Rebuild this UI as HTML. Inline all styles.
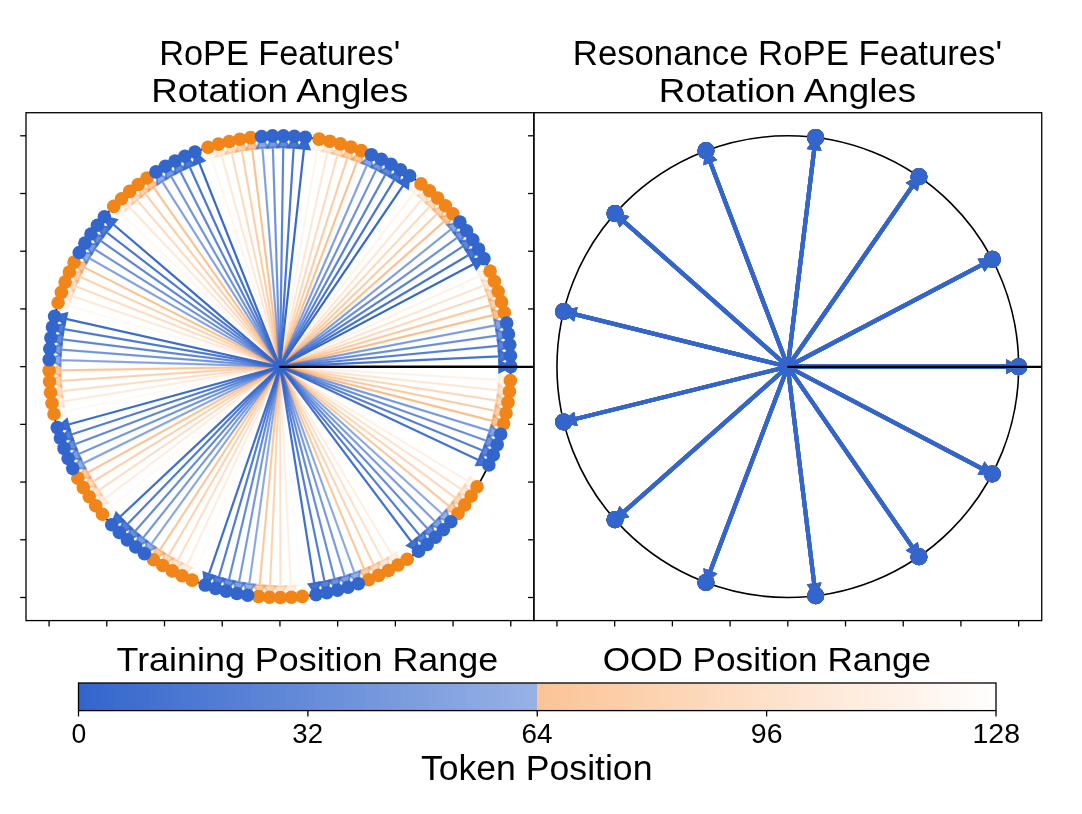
<!DOCTYPE html>
<html><head><meta charset="utf-8"><style>
html,body{margin:0;padding:0;background:#fff;}
svg{display:block;will-change:transform;}
text{font-family:"Liberation Sans", sans-serif;fill:#000;}
</style></head><body>
<svg width="1082" height="814" viewBox="0 0 1082 814">
<defs>
<clipPath id="cl"><rect x="26" y="112.71" width="507.87" height="507.87"/></clipPath>
<clipPath id="cr"><rect x="533.87" y="112.71" width="507.87" height="507.87"/></clipPath>
</defs>
<rect width="1082" height="814" fill="#fff"/>
<g clip-path="url(#cl)">
<circle cx="279.94" cy="366.65" r="230.85" fill="none" stroke="#000" stroke-width="1.6"/>
<polygon points="407.18,559.26 405.64,546.45 400.92,549.57 280.03,366.59 279.84,366.71 400.72,549.7 396.01,552.81" fill="rgb(247,137,45)" fill-opacity="0.008" stroke="rgb(247,137,45)" stroke-opacity="0.008" stroke-width="2" stroke-linejoin="miter"/>
<polygon points="302.26,596.42 306.89,584.37 301.26,584.92 280.05,366.64 279.82,366.66 301.03,584.94 295.4,585.49" fill="rgb(247,137,45)" fill-opacity="0.016" stroke="rgb(247,137,45)" stroke-opacity="0.016" stroke-width="2" stroke-linejoin="miter"/>
<polygon points="192.14,580.16 201.87,571.67 196.64,569.52 280.04,366.69 279.83,366.61 196.43,569.44 191.2,567.29" fill="rgb(247,137,45)" fill-opacity="0.023" stroke="rgb(247,137,45)" stroke-opacity="0.023" stroke-width="2" stroke-linejoin="miter"/>
<polygon points="102.44,514.25 115,511.31 111.39,506.96 280.01,366.74 279.86,366.56 111.24,506.79 107.62,502.44" fill="rgb(247,137,45)" fill-opacity="0.031" stroke="rgb(247,137,45)" stroke-opacity="0.031" stroke-width="2" stroke-linejoin="miter"/>
<polygon points="54,414.04 66.48,417.32 65.32,411.78 279.96,366.76 279.91,366.54 65.27,411.56 64.11,406.02" fill="rgb(247,137,45)" fill-opacity="0.039" stroke="rgb(247,137,45)" stroke-opacity="0.039" stroke-width="2" stroke-linejoin="miter"/>
<polygon points="58.09,302.8 67.59,311.54 69.15,306.11 279.9,366.76 279.97,366.54 69.21,305.89 70.78,300.45" fill="rgb(247,137,45)" fill-opacity="0.047" stroke="rgb(247,137,45)" stroke-opacity="0.047" stroke-width="2" stroke-linejoin="miter"/>
<polygon points="113.75,206.41 118.06,218.58 121.98,214.51 279.85,366.73 280.02,366.57 122.14,214.34 126.07,210.27" fill="rgb(247,137,45)" fill-opacity="0.055" stroke="rgb(247,137,45)" stroke-opacity="0.055" stroke-width="2" stroke-linejoin="miter"/>
<polygon points="208.05,147.28 206.16,160.04 211.54,158.28 279.83,366.69 280.04,366.61 211.76,158.21 217.13,156.45" fill="rgb(247,137,45)" fill-opacity="0.062" stroke="rgb(247,137,45)" stroke-opacity="0.062" stroke-width="2" stroke-linejoin="miter"/>
<polygon points="319.07,139.14 311.42,149.54 317,150.5 279.82,366.63 280.05,366.67 317.22,150.54 322.8,151.49" fill="rgb(247,137,45)" fill-opacity="0.070" stroke="rgb(247,137,45)" stroke-opacity="0.070" stroke-width="2" stroke-linejoin="miter"/>
<polygon points="420.98,183.9 409.36,189.51 413.84,192.97 279.84,366.58 280.03,366.72 414.02,193.11 418.5,196.56" fill="rgb(247,137,45)" fill-opacity="0.078" stroke="rgb(247,137,45)" stroke-opacity="0.078" stroke-width="2" stroke-linejoin="miter"/>
<polygon points="490.1,271.14 477.21,270.66 479.55,275.81 279.89,366.54 279.98,366.76 479.64,276.02 481.98,281.17" fill="rgb(247,137,45)" fill-opacity="0.086" stroke="rgb(247,137,45)" stroke-opacity="0.086" stroke-width="2" stroke-linejoin="miter"/>
<polygon points="510.36,380.59 499.19,374.14 498.85,379.78 279.94,366.53 279.93,366.77 498.84,380.01 498.49,385.66" fill="rgb(247,137,45)" fill-opacity="0.094" stroke="rgb(247,137,45)" stroke-opacity="0.094" stroke-width="2" stroke-linejoin="miter"/>
<polygon points="477.05,486.8 470.2,475.87 467.26,480.69 280,366.55 279.87,366.75 467.14,480.89 464.19,485.72" fill="rgb(247,137,45)" fill-opacity="0.102" stroke="rgb(247,137,45)" stroke-opacity="0.102" stroke-width="2" stroke-linejoin="miter"/>
<polygon points="397.91,565.07 396.98,552.2 392.12,555.09 280.03,366.59 279.84,366.71 391.92,555.21 387.06,558.1" fill="rgb(247,137,45)" fill-opacity="0.109" stroke="rgb(247,137,45)" stroke-opacity="0.109" stroke-width="2" stroke-linejoin="miter"/>
<polygon points="291.35,597.22 296.54,585.4 290.89,585.68 280.05,366.64 279.82,366.66 290.66,585.7 285.01,585.97" fill="rgb(247,137,45)" fill-opacity="0.117" stroke="rgb(247,137,45)" stroke-opacity="0.117" stroke-width="2" stroke-linejoin="miter"/>
<polygon points="182.13,575.76 192.25,567.75 187.12,565.35 280.04,366.7 279.83,366.6 186.91,565.25 181.79,562.86" fill="rgb(247,137,45)" fill-opacity="0.125" stroke="rgb(247,137,45)" stroke-opacity="0.125" stroke-width="2" stroke-linejoin="miter"/>
<polygon points="95.65,505.68 108.34,503.34 104.93,498.82 280,366.74 279.87,366.56 104.79,498.64 101.38,494.12" fill="rgb(247,137,45)" fill-opacity="0.133" stroke="rgb(247,137,45)" stroke-opacity="0.133" stroke-width="2" stroke-linejoin="miter"/>
<polygon points="52.01,403.28 64.32,407.15 63.42,401.56 279.95,366.76 279.92,366.54 63.39,401.34 62.49,395.75" fill="rgb(247,137,45)" fill-opacity="0.141" stroke="rgb(247,137,45)" stroke-opacity="0.141" stroke-width="2" stroke-linejoin="miter"/>
<polygon points="61.36,292.37 70.43,301.54 72.25,296.19 279.9,366.76 279.97,366.54 72.33,295.97 74.15,290.62" fill="rgb(247,137,45)" fill-opacity="0.148" stroke="rgb(247,137,45)" stroke-opacity="0.148" stroke-width="2" stroke-linejoin="miter"/>
<polygon points="121.53,198.72 125.25,211.08 129.37,207.2 279.85,366.73 280.02,366.57 129.54,207.04 133.65,203.16" fill="rgb(247,137,45)" fill-opacity="0.156" stroke="rgb(247,137,45)" stroke-opacity="0.156" stroke-width="2" stroke-linejoin="miter"/>
<polygon points="218.53,144.12 216.03,156.78 221.49,155.27 279.82,366.68 280.05,366.62 221.71,155.21 227.16,153.71" fill="rgb(247,137,45)" fill-opacity="0.164" stroke="rgb(247,137,45)" stroke-opacity="0.164" stroke-width="2" stroke-linejoin="miter"/>
<polygon points="329.8,141.25 321.67,151.27 327.19,152.49 279.82,366.63 280.05,366.67 327.42,152.54 332.94,153.77" fill="rgb(247,137,45)" fill-opacity="0.172" stroke="rgb(247,137,45)" stroke-opacity="0.172" stroke-width="2" stroke-linejoin="miter"/>
<polygon points="429.48,190.79 417.61,195.84 421.91,199.5 279.85,366.58 280.02,366.72 422.09,199.65 426.4,203.32" fill="rgb(247,137,45)" fill-opacity="0.180" stroke="rgb(247,137,45)" stroke-opacity="0.180" stroke-width="2" stroke-linejoin="miter"/>
<polygon points="494.39,281.21 481.53,280.12 483.63,285.37 279.89,366.54 279.98,366.76 483.71,285.59 485.8,290.84" fill="rgb(247,137,45)" fill-opacity="0.188" stroke="rgb(247,137,45)" stroke-opacity="0.188" stroke-width="2" stroke-linejoin="miter"/>
<polygon points="509.44,391.49 498.59,384.51 497.98,390.14 279.95,366.54 279.92,366.76 497.96,390.37 497.35,395.99" fill="rgb(247,137,45)" fill-opacity="0.195" stroke="rgb(247,137,45)" stroke-opacity="0.195" stroke-width="2" stroke-linejoin="miter"/>
<polygon points="471.14,496 464.81,484.76 461.64,489.44 280,366.55 279.87,366.75 461.51,489.63 458.35,494.32" fill="rgb(247,137,45)" fill-opacity="0.203" stroke="rgb(247,137,45)" stroke-opacity="0.203" stroke-width="2" stroke-linejoin="miter"/>
<polygon points="388.38,570.44 388.05,557.54 383.06,560.2 280.04,366.6 279.83,366.7 382.86,560.31 377.87,562.96" fill="rgb(247,137,45)" fill-opacity="0.211" stroke="rgb(247,137,45)" stroke-opacity="0.211" stroke-width="2" stroke-linejoin="miter"/>
<polygon points="280.41,597.5 286.16,585.95 280.5,585.96 280.05,366.65 279.82,366.65 280.27,585.96 274.62,585.97" fill="rgb(247,137,45)" fill-opacity="0.219" stroke="rgb(247,137,45)" stroke-opacity="0.219" stroke-width="2" stroke-linejoin="miter"/>
<polygon points="172.33,570.89 182.82,563.37 177.81,560.73 280.04,366.7 279.83,366.6 177.61,560.62 172.61,557.99" fill="rgb(247,137,45)" fill-opacity="0.227" stroke="rgb(247,137,45)" stroke-opacity="0.227" stroke-width="2" stroke-linejoin="miter"/>
<polygon points="89.27,496.79 102.05,495.05 98.87,490.38 280,366.75 279.87,366.55 98.73,490.19 95.55,485.52" fill="rgb(247,137,45)" fill-opacity="0.234" stroke="rgb(247,137,45)" stroke-opacity="0.234" stroke-width="2" stroke-linejoin="miter"/>
<polygon points="50.53,392.44 62.65,396.89 62.01,391.27 279.95,366.76 279.92,366.54 61.99,391.04 61.36,385.42" fill="rgb(247,137,45)" fill-opacity="0.242" stroke="rgb(247,137,45)" stroke-opacity="0.242" stroke-width="2" stroke-linejoin="miter"/>
<polygon points="65.13,282.09 73.75,291.69 75.83,286.43 279.89,366.76 279.98,366.54 75.91,286.21 77.98,280.95" fill="rgb(247,137,45)" fill-opacity="0.250" stroke="rgb(247,137,45)" stroke-opacity="0.250" stroke-width="2" stroke-linejoin="miter"/>
<polygon points="129.67,191.4 132.8,203.92 137.09,200.24 279.85,366.73 280.02,366.57 137.27,200.09 141.56,196.41" fill="rgb(247,137,45)" fill-opacity="0.258" stroke="rgb(247,137,45)" stroke-opacity="0.258" stroke-width="2" stroke-linejoin="miter"/>
<polygon points="229.14,141.46 226.05,153.99 231.57,152.74 279.82,366.68 280.05,366.62 231.79,152.69 237.31,151.45" fill="rgb(247,137,45)" fill-opacity="0.266" stroke="rgb(247,137,45)" stroke-opacity="0.266" stroke-width="2" stroke-linejoin="miter"/>
<polygon points="340.42,143.87 331.83,153.49 337.29,154.97 279.82,366.62 280.05,366.68 337.51,155.03 342.97,156.52" fill="rgb(247,137,45)" fill-opacity="0.273" stroke="rgb(247,137,45)" stroke-opacity="0.273" stroke-width="2" stroke-linejoin="miter"/>
<polygon points="437.64,198.07 425.54,202.55 429.67,206.42 279.85,366.57 280.02,366.73 429.84,206.58 433.97,210.44" fill="rgb(247,137,45)" fill-opacity="0.281" stroke="rgb(247,137,45)" stroke-opacity="0.281" stroke-width="2" stroke-linejoin="miter"/>
<polygon points="498.2,291.46 485.4,289.77 487.25,295.11 279.9,366.54 279.97,366.76 487.32,295.33 489.16,300.68" fill="rgb(247,137,45)" fill-opacity="0.289" stroke="rgb(247,137,45)" stroke-opacity="0.289" stroke-width="2" stroke-linejoin="miter"/>
<polygon points="508.01,402.34 497.5,394.85 496.62,400.44 279.95,366.54 279.92,366.76 496.59,400.67 495.71,406.26" fill="rgb(247,137,45)" fill-opacity="0.297" stroke="rgb(247,137,45)" stroke-opacity="0.297" stroke-width="2" stroke-linejoin="miter"/>
<polygon points="464.8,504.92 459.01,493.38 455.62,497.91 280,366.56 279.87,366.74 455.48,498.1 452.1,502.63" fill="rgb(247,137,45)" fill-opacity="0.305" stroke="rgb(247,137,45)" stroke-opacity="0.305" stroke-width="2" stroke-linejoin="miter"/>
<polygon points="378.61,575.35 378.89,562.45 373.78,564.87 280.04,366.6 279.83,366.7 373.57,564.96 368.45,567.38" fill="rgb(247,137,45)" fill-opacity="0.312" stroke="rgb(247,137,45)" stroke-opacity="0.312" stroke-width="2" stroke-linejoin="miter"/>
<polygon points="269.48,597.26 275.76,585.99 270.11,585.74 280.05,366.66 279.82,366.64 269.88,585.73 264.23,585.47" fill="rgb(247,137,45)" fill-opacity="0.320" stroke="rgb(247,137,45)" stroke-opacity="0.320" stroke-width="2" stroke-linejoin="miter"/>
<polygon points="162.78,565.56 173.61,558.54 168.73,555.67 280.03,366.71 279.84,366.59 168.53,555.56 163.66,552.69" fill="rgb(247,137,45)" fill-opacity="0.328" stroke="rgb(247,137,45)" stroke-opacity="0.328" stroke-width="2" stroke-linejoin="miter"/>
<polygon points="83.32,487.61 96.17,486.48 93.21,481.66 280,366.75 279.87,366.55 93.09,481.47 90.12,476.65" fill="rgb(247,137,45)" fill-opacity="0.336" stroke="rgb(247,137,45)" stroke-opacity="0.336" stroke-width="2" stroke-linejoin="miter"/>
<polygon points="49.57,381.55 61.46,386.56 61.09,380.92 279.94,366.77 279.93,366.53 61.08,380.69 60.71,375.04" fill="rgb(247,137,45)" fill-opacity="0.344" stroke="rgb(247,137,45)" stroke-opacity="0.344" stroke-width="2" stroke-linejoin="miter"/>
<polygon points="69.37,272.01 77.54,282.01 79.86,276.85 279.89,366.76 279.98,366.54 79.95,276.64 82.27,271.48" fill="rgb(247,137,45)" fill-opacity="0.352" stroke="rgb(247,137,45)" stroke-opacity="0.352" stroke-width="2" stroke-linejoin="miter"/>
<polygon points="138.14,184.48 140.67,197.14 145.14,193.66 279.84,366.72 280.03,366.58 145.32,193.52 149.78,190.05" fill="rgb(247,137,45)" fill-opacity="0.359" stroke="rgb(247,137,45)" stroke-opacity="0.359" stroke-width="2" stroke-linejoin="miter"/>
<polygon points="239.86,139.3 236.18,151.67 241.75,150.69 279.82,366.67 280.05,366.63 241.98,150.65 247.55,149.67" fill="rgb(247,137,45)" fill-opacity="0.367" stroke="rgb(247,137,45)" stroke-opacity="0.367" stroke-width="2" stroke-linejoin="miter"/>
<polygon points="350.91,146.98 341.87,156.19 347.25,157.93 279.83,366.61 280.04,366.69 347.47,158 352.85,159.74" fill="rgb(247,137,45)" fill-opacity="0.375" stroke="rgb(247,137,45)" stroke-opacity="0.375" stroke-width="2" stroke-linejoin="miter"/>
<polygon points="445.45,205.73 433.15,209.64 437.1,213.69 279.85,366.57 280.02,366.73 437.26,213.86 441.2,217.91" fill="rgb(247,137,45)" fill-opacity="0.383" stroke="rgb(247,137,45)" stroke-opacity="0.383" stroke-width="2" stroke-linejoin="miter"/>
<polygon points="501.51,301.89 488.82,299.59 490.4,305.02 279.9,366.54 279.97,366.76 490.47,305.24 492.05,310.67" fill="rgb(247,137,45)" fill-opacity="0.391" stroke="rgb(247,137,45)" stroke-opacity="0.391" stroke-width="2" stroke-linejoin="miter"/>
<polygon points="506.06,413.1 495.92,405.13 494.78,410.67 279.96,366.54 279.91,366.76 494.73,410.89 493.6,416.43" fill="rgb(247,137,45)" fill-opacity="0.398" stroke="rgb(247,137,45)" stroke-opacity="0.398" stroke-width="2" stroke-linejoin="miter"/>
<polygon points="458.04,513.52 452.81,501.72 449.21,506.09 280.01,366.56 279.86,366.74 449.06,506.27 445.46,510.63" fill="rgb(247,137,45)" fill-opacity="0.406" stroke="rgb(247,137,45)" stroke-opacity="0.406" stroke-width="2" stroke-linejoin="miter"/>
<polygon points="368.61,579.79 369.5,566.92 364.28,569.09 280.04,366.61 279.83,366.69 364.07,569.18 358.85,571.35" fill="rgb(247,137,45)" fill-opacity="0.414" stroke="rgb(247,137,45)" stroke-opacity="0.414" stroke-width="2" stroke-linejoin="miter"/>
<polygon points="258.56,596.51 265.38,585.55 259.75,585.03 280.05,366.66 279.82,366.64 259.52,585 253.88,584.48" fill="rgb(247,137,45)" fill-opacity="0.422" stroke="rgb(247,137,45)" stroke-opacity="0.422" stroke-width="2" stroke-linejoin="miter"/>
<polygon points="153.48,559.79 164.64,553.29 159.9,550.19 280.03,366.71 279.84,366.59 159.71,550.07 154.98,546.97" fill="rgb(247,137,45)" fill-opacity="0.430" stroke="rgb(247,137,45)" stroke-opacity="0.430" stroke-width="2" stroke-linejoin="miter"/>
<polygon points="77.81,478.16 90.7,477.64 87.97,472.69 279.99,366.75 279.88,366.55 87.86,472.49 85.12,467.53" fill="rgb(247,137,45)" fill-opacity="0.438" stroke="rgb(247,137,45)" stroke-opacity="0.438" stroke-width="2" stroke-linejoin="miter"/>
<polygon points="49.12,370.61 60.76,376.19 60.66,370.53 279.94,366.77 279.93,366.53 60.66,370.3 60.56,364.65" fill="rgb(247,137,45)" fill-opacity="0.445" stroke="rgb(247,137,45)" stroke-opacity="0.445" stroke-width="2" stroke-linejoin="miter"/>
<polygon points="74.09,262.14 81.77,272.52 84.33,267.47 279.88,366.75 279.99,366.55 84.44,267.27 87,262.22" fill="rgb(247,137,45)" fill-opacity="0.453" stroke="rgb(247,137,45)" stroke-opacity="0.453" stroke-width="2" stroke-linejoin="miter"/>
<polygon points="146.93,177.97 148.86,190.73 153.48,187.47 279.84,366.72 280.03,366.58 153.67,187.34 158.29,184.08" fill="rgb(247,137,45)" fill-opacity="0.461" stroke="rgb(247,137,45)" stroke-opacity="0.461" stroke-width="2" stroke-linejoin="miter"/>
<polygon points="250.68,137.66 246.42,149.84 252.03,149.13 279.82,366.66 280.05,366.64 252.26,149.1 257.87,148.38" fill="rgb(247,137,45)" fill-opacity="0.469" stroke="rgb(247,137,45)" stroke-opacity="0.469" stroke-width="2" stroke-linejoin="miter"/>
<polygon points="361.24,150.59 351.77,159.36 357.06,161.35 279.83,366.61 280.04,366.69 357.28,161.43 362.57,163.43" fill="rgb(247,137,45)" fill-opacity="0.477" stroke="rgb(247,137,45)" stroke-opacity="0.477" stroke-width="2" stroke-linejoin="miter"/>
<polygon points="452.89,213.75 440.42,217.07 444.17,221.31 279.86,366.56 280.01,366.74 444.32,221.48 448.06,225.72" fill="rgb(247,137,45)" fill-opacity="0.484" stroke="rgb(247,137,45)" stroke-opacity="0.484" stroke-width="2" stroke-linejoin="miter"/>
<polygon points="504.33,312.46 491.76,309.56 493.09,315.06 279.91,366.54 279.96,366.76 493.14,315.28 494.47,320.78" fill="rgb(247,137,45)" fill-opacity="0.492" stroke="rgb(247,137,45)" stroke-opacity="0.492" stroke-width="2" stroke-linejoin="miter"/>
<polygon points="503.61,423.76 493.85,415.32 492.45,420.8 279.96,366.54 279.91,366.76 492.4,421.02 491,426.5" fill="rgb(247,137,45)" fill-opacity="0.500" stroke="rgb(247,137,45)" stroke-opacity="0.500" stroke-width="2" stroke-linejoin="miter"/>
<polygon points="450.88,521.79 446.21,509.76 442.41,513.95 280.01,366.56 279.86,366.74 442.26,514.12 438.46,518.31" fill="rgb(51,102,204)" fill-opacity="0.508" stroke="rgb(51,102,204)" stroke-opacity="0.508" stroke-width="2" stroke-linejoin="miter"/>
<polygon points="358.41,583.75 359.91,570.93 354.6,572.86 280.04,366.61 279.83,366.69 354.38,572.94 349.06,574.86" fill="rgb(51,102,204)" fill-opacity="0.516" stroke="rgb(51,102,204)" stroke-opacity="0.516" stroke-width="2" stroke-linejoin="miter"/>
<polygon points="247.7,595.24 255.02,584.61 249.42,583.82 280.05,366.67 279.82,366.63 249.19,583.79 243.59,583" fill="rgb(51,102,204)" fill-opacity="0.523" stroke="rgb(51,102,204)" stroke-opacity="0.523" stroke-width="2" stroke-linejoin="miter"/>
<polygon points="144.48,553.58 155.92,547.62 151.34,544.3 280.03,366.72 279.84,366.58 151.16,544.17 146.58,540.85" fill="rgb(51,102,204)" fill-opacity="0.531" stroke="rgb(51,102,204)" stroke-opacity="0.531" stroke-width="2" stroke-linejoin="miter"/>
<polygon points="72.75,468.46 85.65,468.55 83.16,463.48 279.99,366.75 279.88,366.55 83.06,463.27 80.56,458.19" fill="rgb(51,102,204)" fill-opacity="0.539" stroke="rgb(51,102,204)" stroke-opacity="0.539" stroke-width="2" stroke-linejoin="miter"/>
<polygon points="49.19,359.68 60.55,365.79 60.72,360.14 279.93,366.77 279.94,366.53 60.73,359.91 60.9,354.26" fill="rgb(51,102,204)" fill-opacity="0.547" stroke="rgb(51,102,204)" stroke-opacity="0.547" stroke-width="2" stroke-linejoin="miter"/>
<polygon points="79.28,252.51 86.46,263.23 89.25,258.32 279.88,366.75 279.99,366.55 89.37,258.12 92.16,253.2" fill="rgb(51,102,204)" fill-opacity="0.555" stroke="rgb(51,102,204)" stroke-opacity="0.555" stroke-width="2" stroke-linejoin="miter"/>
<polygon points="156.01,171.88 157.34,184.72 162.11,181.68 279.84,366.71 280.03,366.59 162.31,181.56 167.08,178.52" fill="rgb(51,102,204)" fill-opacity="0.562" stroke="rgb(51,102,204)" stroke-opacity="0.562" stroke-width="2" stroke-linejoin="miter"/>
<polygon points="261.56,136.53 256.73,148.5 262.36,148.05 279.82,366.66 280.05,366.64 262.59,148.03 268.23,147.58" fill="rgb(51,102,204)" fill-opacity="0.570" stroke="rgb(51,102,204)" stroke-opacity="0.570" stroke-width="2" stroke-linejoin="miter"/>
<polygon points="371.38,154.68 361.51,163 366.7,165.24 279.83,366.6 280.04,366.7 366.91,165.33 372.11,167.57" fill="rgb(51,102,204)" fill-opacity="0.578" stroke="rgb(51,102,204)" stroke-opacity="0.578" stroke-width="2" stroke-linejoin="miter"/>
<polygon points="459.94,222.12 447.33,224.84 450.87,229.25 279.86,366.56 280.01,366.74 451.01,229.43 454.55,233.84" fill="rgb(51,102,204)" fill-opacity="0.586" stroke="rgb(51,102,204)" stroke-opacity="0.586" stroke-width="2" stroke-linejoin="miter"/>
<polygon points="506.65,323.15 494.23,319.66 495.29,325.21 279.91,366.54 279.96,366.76 495.34,325.44 496.4,330.99" fill="rgb(51,102,204)" fill-opacity="0.594" stroke="rgb(51,102,204)" stroke-opacity="0.594" stroke-width="2" stroke-linejoin="miter"/>
<polygon points="500.65,434.3 491.31,425.4 489.65,430.8 279.97,366.54 279.9,366.76 489.58,431.02 487.92,436.43" fill="rgb(51,102,204)" fill-opacity="0.602" stroke="rgb(51,102,204)" stroke-opacity="0.602" stroke-width="2" stroke-linejoin="miter"/>
<polygon points="443.34,529.72 439.25,517.48 435.25,521.48 280.02,366.57 279.85,366.73 435.09,521.65 431.09,525.65" fill="rgb(51,102,204)" fill-opacity="0.609" stroke="rgb(51,102,204)" stroke-opacity="0.609" stroke-width="2" stroke-linejoin="miter"/>
<polygon points="348.04,587.23 350.15,574.49 344.74,576.16 280.05,366.62 279.82,366.68 344.52,576.23 339.12,577.9" fill="rgb(51,102,204)" fill-opacity="0.617" stroke="rgb(51,102,204)" stroke-opacity="0.617" stroke-width="2" stroke-linejoin="miter"/>
<polygon points="236.9,593.45 244.72,583.19 239.17,582.14 280.05,366.67 279.82,366.63 238.94,582.09 233.38,581.04" fill="rgb(51,102,204)" fill-opacity="0.625" stroke="rgb(51,102,204)" stroke-opacity="0.625" stroke-width="2" stroke-linejoin="miter"/>
<polygon points="135.77,546.95 147.49,541.54 143.07,538.01 280.03,366.72 279.84,366.58 142.89,537.87 138.47,534.33" fill="rgb(51,102,204)" fill-opacity="0.633" stroke="rgb(51,102,204)" stroke-opacity="0.633" stroke-width="2" stroke-linejoin="miter"/>
<polygon points="68.16,458.53 81.04,459.23 78.79,454.04 279.98,366.76 279.89,366.54 78.7,453.83 76.45,448.64" fill="rgb(51,102,204)" fill-opacity="0.641" stroke="rgb(51,102,204)" stroke-opacity="0.641" stroke-width="2" stroke-linejoin="miter"/>
<polygon points="49.78,348.75 60.84,355.4 61.28,349.76 279.93,366.77 279.94,366.53 61.3,349.53 61.74,343.89" fill="rgb(51,102,204)" fill-opacity="0.648" stroke="rgb(51,102,204)" stroke-opacity="0.648" stroke-width="2" stroke-linejoin="miter"/>
<polygon points="84.91,243.13 91.57,254.18 94.6,249.41 279.87,366.75 280,366.55 94.72,249.21 97.75,244.43" fill="rgb(51,102,204)" fill-opacity="0.656" stroke="rgb(51,102,204)" stroke-opacity="0.656" stroke-width="2" stroke-linejoin="miter"/>
<polygon points="165.38,166.23 166.1,179.11 171.01,176.31 279.83,366.71 280.04,366.59 171.21,176.19 176.12,173.39" fill="rgb(51,102,204)" fill-opacity="0.664" stroke="rgb(51,102,204)" stroke-opacity="0.664" stroke-width="2" stroke-linejoin="miter"/>
<polygon points="272.48,135.92 267.09,147.64 272.74,147.46 279.82,366.65 280.05,366.65 272.97,147.45 278.62,147.27" fill="rgb(51,102,204)" fill-opacity="0.672" stroke="rgb(51,102,204)" stroke-opacity="0.672" stroke-width="2" stroke-linejoin="miter"/>
<polygon points="381.32,159.25 371.07,167.09 376.15,169.57 279.83,366.6 280.04,366.7 376.35,169.67 381.43,172.16" fill="rgb(51,102,204)" fill-opacity="0.680" stroke="rgb(51,102,204)" stroke-opacity="0.680" stroke-width="2" stroke-linejoin="miter"/>
<polygon points="466.58,230.81 453.86,232.93 457.18,237.5 279.87,366.56 280,366.74 457.32,237.69 460.65,242.26" fill="rgb(51,102,204)" fill-opacity="0.688" stroke="rgb(51,102,204)" stroke-opacity="0.688" stroke-width="2" stroke-linejoin="miter"/>
<polygon points="508.46,333.94 496.21,329.86 497.01,335.46 279.92,366.54 279.95,366.76 497.05,335.69 497.85,341.29" fill="rgb(51,102,204)" fill-opacity="0.695" stroke="rgb(51,102,204)" stroke-opacity="0.695" stroke-width="2" stroke-linejoin="miter"/>
<polygon points="497.2,444.68 488.29,435.34 486.37,440.67 279.97,366.54 279.9,366.76 486.3,440.88 484.38,446.21" fill="rgb(51,102,204)" fill-opacity="0.703" stroke="rgb(51,102,204)" stroke-opacity="0.703" stroke-width="2" stroke-linejoin="miter"/>
<polygon points="435.43,537.28 431.92,524.86 427.74,528.67 280.02,366.57 279.85,366.73 427.57,528.82 423.39,532.63" fill="rgb(51,102,204)" fill-opacity="0.711" stroke="rgb(51,102,204)" stroke-opacity="0.711" stroke-width="2" stroke-linejoin="miter"/>
<polygon points="337.51,590.2 340.22,577.59 334.74,579 280.05,366.62 279.82,366.68 334.52,579.06 329.04,580.47" fill="rgb(51,102,204)" fill-opacity="0.719" stroke="rgb(51,102,204)" stroke-opacity="0.719" stroke-width="2" stroke-linejoin="miter"/>
<polygon points="226.21,591.16 234.51,581.28 229.01,579.96 280.05,366.68 279.82,366.62 228.78,579.91 223.28,578.59" fill="rgb(51,102,204)" fill-opacity="0.727" stroke="rgb(51,102,204)" stroke-opacity="0.727" stroke-width="2" stroke-linejoin="miter"/>
<polygon points="127.39,539.92 139.35,535.07 135.11,531.33 280.02,366.73 279.85,366.57 134.93,531.18 130.69,527.44" fill="rgb(51,102,204)" fill-opacity="0.734" stroke="rgb(51,102,204)" stroke-opacity="0.734" stroke-width="2" stroke-linejoin="miter"/>
<polygon points="64.04,448.4 76.88,449.71 74.88,444.42 279.98,366.76 279.89,366.54 74.8,444.2 72.79,438.91" fill="rgb(51,102,204)" fill-opacity="0.742" stroke="rgb(51,102,204)" stroke-opacity="0.742" stroke-width="2" stroke-linejoin="miter"/>
<polygon points="50.89,337.87 61.62,345.03 62.32,339.42 279.92,366.76 279.95,366.54 62.35,339.19 63.06,333.58" fill="rgb(51,102,204)" fill-opacity="0.750" stroke="rgb(51,102,204)" stroke-opacity="0.750" stroke-width="2" stroke-linejoin="miter"/>
<polygon points="90.98,234.03 97.11,245.39 100.36,240.76 279.87,366.74 280,366.56 100.49,240.57 103.74,235.94" fill="rgb(51,102,204)" fill-opacity="0.758" stroke="rgb(51,102,204)" stroke-opacity="0.758" stroke-width="2" stroke-linejoin="miter"/>
<polygon points="175,161.03 175.11,173.93 180.15,171.36 279.83,366.7 280.04,366.6 180.35,171.25 185.39,168.68" fill="rgb(51,102,204)" fill-opacity="0.766" stroke="rgb(51,102,204)" stroke-opacity="0.766" stroke-width="2" stroke-linejoin="miter"/>
<polygon points="283.42,135.83 277.48,147.28 283.13,147.37 279.82,366.65 280.05,366.65 283.36,147.37 289.02,147.45" fill="rgb(51,102,204)" fill-opacity="0.773" stroke="rgb(51,102,204)" stroke-opacity="0.773" stroke-width="2" stroke-linejoin="miter"/>
<polygon points="391.03,164.29 380.42,171.63 385.37,174.35 279.83,366.59 280.04,366.71 385.58,174.46 390.53,177.19" fill="rgb(51,102,204)" fill-opacity="0.781" stroke="rgb(51,102,204)" stroke-opacity="0.781" stroke-width="2" stroke-linejoin="miter"/>
<polygon points="472.81,239.8 460,241.32 463.1,246.05 279.87,366.55 280,366.75 463.23,246.24 466.34,250.96" fill="rgb(51,102,204)" fill-opacity="0.789" stroke="rgb(51,102,204)" stroke-opacity="0.789" stroke-width="2" stroke-linejoin="miter"/>
<polygon points="509.75,344.8 497.71,340.15 498.25,345.78 279.92,366.54 279.95,366.76 498.27,346.01 498.8,351.64" fill="rgb(51,102,204)" fill-opacity="0.797" stroke="rgb(51,102,204)" stroke-opacity="0.797" stroke-width="2" stroke-linejoin="miter"/>
<polygon points="493.26,454.88 484.8,445.14 482.64,450.36 279.98,366.54 279.89,366.76 482.55,450.58 480.39,455.8" fill="rgb(51,102,204)" fill-opacity="0.805" stroke="rgb(51,102,204)" stroke-opacity="0.805" stroke-width="2" stroke-linejoin="miter"/>
<polygon points="427.17,544.45 424.26,531.88 419.9,535.49 280.02,366.58 279.85,366.72 419.72,535.63 415.37,539.24" fill="rgb(51,102,204)" fill-opacity="0.812" stroke="rgb(51,102,204)" stroke-opacity="0.812" stroke-width="2" stroke-linejoin="miter"/>
<polygon points="326.86,592.68 330.16,580.21 324.62,581.36 280.05,366.63 279.82,366.67 324.4,581.4 318.86,582.55" fill="rgb(51,102,204)" fill-opacity="0.820" stroke="rgb(51,102,204)" stroke-opacity="0.820" stroke-width="2" stroke-linejoin="miter"/>
<polygon points="215.63,588.36 224.39,578.89 218.96,577.31 280.05,366.68 279.82,366.62 218.74,577.25 213.3,575.67" fill="rgb(51,102,204)" fill-opacity="0.828" stroke="rgb(51,102,204)" stroke-opacity="0.828" stroke-width="2" stroke-linejoin="miter"/>
<polygon points="119.36,532.5 131.53,528.22 127.47,524.29 280.02,366.73 279.85,366.57 127.3,524.13 123.24,520.19" fill="rgb(51,102,204)" fill-opacity="0.836" stroke="rgb(51,102,204)" stroke-opacity="0.836" stroke-width="2" stroke-linejoin="miter"/>
<polygon points="60.41,438.08 73.17,439.99 71.42,434.62 279.97,366.76 279.9,366.54 71.35,434.4 69.6,429.02" fill="rgb(51,102,204)" fill-opacity="0.844" stroke="rgb(51,102,204)" stroke-opacity="0.844" stroke-width="2" stroke-linejoin="miter"/>
<polygon points="52.51,327.05 62.89,334.72 63.86,329.14 279.92,366.76 279.95,366.54 63.9,328.92 64.87,323.34" fill="rgb(51,102,204)" fill-opacity="0.852" stroke="rgb(51,102,204)" stroke-opacity="0.852" stroke-width="2" stroke-linejoin="miter"/>
<polygon points="97.48,225.23 103.06,236.86 106.53,232.39 279.86,366.74 280.01,366.56 106.67,232.21 110.13,227.74" fill="rgb(51,102,204)" fill-opacity="0.859" stroke="rgb(51,102,204)" stroke-opacity="0.859" stroke-width="2" stroke-linejoin="miter"/>
<polygon points="184.86,156.29 184.36,169.18 189.51,166.85 279.83,366.7 280.04,366.6 189.72,166.76 194.88,164.43" fill="rgb(51,102,204)" fill-opacity="0.867" stroke="rgb(51,102,204)" stroke-opacity="0.867" stroke-width="2" stroke-linejoin="miter"/>
<polygon points="294.35,136.25 287.87,147.41 293.52,147.76 279.82,366.64 280.05,366.66 293.75,147.78 299.39,148.13" fill="rgb(51,102,204)" fill-opacity="0.875" stroke="rgb(51,102,204)" stroke-opacity="0.875" stroke-width="2" stroke-linejoin="miter"/>
<polygon points="400.49,169.78 389.54,176.61 394.37,179.56 279.84,366.59 280.03,366.71 394.56,179.68 399.39,182.64" fill="rgb(51,102,204)" fill-opacity="0.883" stroke="rgb(51,102,204)" stroke-opacity="0.883" stroke-width="2" stroke-linejoin="miter"/>
<polygon points="478.6,249.08 465.73,249.99 468.61,254.86 279.88,366.55 279.99,366.75 468.73,255.06 471.61,259.93" fill="rgb(51,102,204)" fill-opacity="0.891" stroke="rgb(51,102,204)" stroke-opacity="0.891" stroke-width="2" stroke-linejoin="miter"/>
<polygon points="510.53,355.71 498.72,350.5 498.99,356.15 279.93,366.53 279.94,366.77 499,356.38 499.27,362.03" fill="rgb(51,102,204)" fill-opacity="0.898" stroke="rgb(51,102,204)" stroke-opacity="0.898" stroke-width="2" stroke-linejoin="miter"/>
<polygon points="488.84,464.89 480.85,454.75 478.44,459.87 279.98,366.55 279.89,366.75 478.34,460.08 475.94,465.2" fill="rgb(51,102,204)" fill-opacity="0.906" stroke="rgb(51,102,204)" stroke-opacity="0.906" stroke-width="2" stroke-linejoin="miter"/>
<polygon points="418.58,551.23 416.27,538.53 411.74,541.93 280.03,366.58 279.84,366.72 411.56,542.07 407.04,545.46" fill="rgb(51,102,204)" fill-opacity="0.914" stroke="rgb(51,102,204)" stroke-opacity="0.914" stroke-width="2" stroke-linejoin="miter"/>
<polygon points="316.1,594.65 319.99,582.35 314.4,583.23 280.05,366.63 279.82,366.67 314.17,583.27 308.59,584.15" fill="rgb(51,102,204)" fill-opacity="0.922" stroke="rgb(51,102,204)" stroke-opacity="0.922" stroke-width="2" stroke-linejoin="miter"/>
<polygon points="205.2,585.07 214.4,576.02 209.05,574.18 280.04,366.69 279.83,366.61 208.83,574.11 203.48,572.28" fill="rgb(51,102,204)" fill-opacity="0.930" stroke="rgb(51,102,204)" stroke-opacity="0.930" stroke-width="2" stroke-linejoin="miter"/>
<polygon points="111.68,524.71 124.04,521.01 120.17,516.89 280.01,366.73 279.86,366.57 120.01,516.72 116.14,512.6" fill="rgb(51,102,204)" fill-opacity="0.938" stroke="rgb(51,102,204)" stroke-opacity="0.938" stroke-width="2" stroke-linejoin="miter"/>
<polygon points="57.28,427.6 69.93,430.12 68.44,424.66 279.97,366.76 279.9,366.54 68.38,424.44 66.89,418.98" fill="rgb(51,102,204)" fill-opacity="0.945" stroke="rgb(51,102,204)" stroke-opacity="0.945" stroke-width="2" stroke-linejoin="miter"/>
<polygon points="54.64,316.32 64.64,324.47 65.88,318.95 279.91,366.76 279.96,366.54 65.93,318.72 67.16,313.2" fill="rgb(51,102,204)" fill-opacity="0.953" stroke="rgb(51,102,204)" stroke-opacity="0.953" stroke-width="2" stroke-linejoin="miter"/>
<polygon points="104.38,216.74 109.41,228.63 113.08,224.33 279.86,366.74 280.01,366.56 113.23,224.15 116.91,219.85" fill="rgb(51,102,204)" fill-opacity="0.961" stroke="rgb(51,102,204)" stroke-opacity="0.961" stroke-width="2" stroke-linejoin="miter"/>
<polygon points="194.94,152.02 193.82,164.87 199.08,162.79 279.83,366.69 280.04,366.61 199.29,162.71 204.55,160.62" fill="rgb(51,102,204)" fill-opacity="0.969" stroke="rgb(51,102,204)" stroke-opacity="0.969" stroke-width="2" stroke-linejoin="miter"/>
<polygon points="305.25,137.19 298.25,148.03 303.87,148.65 279.82,366.64 280.05,366.66 304.1,148.68 309.72,149.3" fill="rgb(51,102,204)" fill-opacity="0.977" stroke="rgb(51,102,204)" stroke-opacity="0.977" stroke-width="2" stroke-linejoin="miter"/>
<polygon points="409.68,175.71 398.42,182.02 403.1,185.2 279.84,366.59 280.03,366.71 403.29,185.32 407.97,188.5" fill="rgb(51,102,204)" fill-opacity="0.984" stroke="rgb(51,102,204)" stroke-opacity="0.984" stroke-width="2" stroke-linejoin="miter"/>
<polygon points="483.95,258.62 471.05,258.93 473.7,263.92 279.88,366.55 279.99,366.75 473.8,264.13 476.45,269.13" fill="rgb(51,102,204)" fill-opacity="0.992" stroke="rgb(51,102,204)" stroke-opacity="0.992" stroke-width="2" stroke-linejoin="miter"/>
<polygon points="510.78,366.65 499.24,360.88 499.24,366.53 279.94,366.53 279.94,366.77 499.24,366.77 499.24,372.42" fill="rgb(51,102,204)" fill-opacity="1.000" stroke="rgb(51,102,204)" stroke-opacity="1.000" stroke-width="2" stroke-linejoin="miter"/>
<circle cx="503.61" cy="423.76" r="6.8" fill="rgb(242,133,24)"/>
<circle cx="504.33" cy="312.46" r="6.8" fill="rgb(242,133,24)"/>
<circle cx="452.89" cy="213.75" r="6.8" fill="rgb(242,133,24)"/>
<circle cx="361.24" cy="150.59" r="6.8" fill="rgb(242,133,24)"/>
<circle cx="250.68" cy="137.66" r="6.8" fill="rgb(242,133,24)"/>
<circle cx="146.93" cy="177.97" r="6.8" fill="rgb(242,133,24)"/>
<circle cx="74.09" cy="262.14" r="6.8" fill="rgb(242,133,24)"/>
<circle cx="49.12" cy="370.61" r="6.8" fill="rgb(242,133,24)"/>
<circle cx="77.81" cy="478.16" r="6.8" fill="rgb(242,133,24)"/>
<circle cx="153.48" cy="559.79" r="6.8" fill="rgb(242,133,24)"/>
<circle cx="258.56" cy="596.51" r="6.8" fill="rgb(242,133,24)"/>
<circle cx="368.61" cy="579.79" r="6.8" fill="rgb(242,133,24)"/>
<circle cx="458.04" cy="513.52" r="6.8" fill="rgb(242,133,24)"/>
<circle cx="506.06" cy="413.1" r="6.8" fill="rgb(242,133,24)"/>
<circle cx="501.51" cy="301.89" r="6.8" fill="rgb(242,133,24)"/>
<circle cx="445.45" cy="205.73" r="6.8" fill="rgb(242,133,24)"/>
<circle cx="350.91" cy="146.98" r="6.8" fill="rgb(242,133,24)"/>
<circle cx="239.86" cy="139.3" r="6.8" fill="rgb(242,133,24)"/>
<circle cx="138.14" cy="184.48" r="6.8" fill="rgb(242,133,24)"/>
<circle cx="69.37" cy="272.01" r="6.8" fill="rgb(242,133,24)"/>
<circle cx="49.57" cy="381.55" r="6.8" fill="rgb(242,133,24)"/>
<circle cx="83.32" cy="487.61" r="6.8" fill="rgb(242,133,24)"/>
<circle cx="162.78" cy="565.56" r="6.8" fill="rgb(242,133,24)"/>
<circle cx="269.48" cy="597.26" r="6.8" fill="rgb(242,133,24)"/>
<circle cx="378.61" cy="575.35" r="6.8" fill="rgb(242,133,24)"/>
<circle cx="464.8" cy="504.92" r="6.8" fill="rgb(242,133,24)"/>
<circle cx="508.01" cy="402.34" r="6.8" fill="rgb(242,133,24)"/>
<circle cx="498.2" cy="291.46" r="6.8" fill="rgb(242,133,24)"/>
<circle cx="437.64" cy="198.07" r="6.8" fill="rgb(242,133,24)"/>
<circle cx="340.42" cy="143.87" r="6.8" fill="rgb(242,133,24)"/>
<circle cx="229.14" cy="141.46" r="6.8" fill="rgb(242,133,24)"/>
<circle cx="129.67" cy="191.4" r="6.8" fill="rgb(242,133,24)"/>
<circle cx="65.13" cy="282.09" r="6.8" fill="rgb(242,133,24)"/>
<circle cx="50.53" cy="392.44" r="6.8" fill="rgb(242,133,24)"/>
<circle cx="89.27" cy="496.79" r="6.8" fill="rgb(242,133,24)"/>
<circle cx="172.33" cy="570.89" r="6.8" fill="rgb(242,133,24)"/>
<circle cx="280.41" cy="597.5" r="6.8" fill="rgb(242,133,24)"/>
<circle cx="388.38" cy="570.44" r="6.8" fill="rgb(242,133,24)"/>
<circle cx="471.14" cy="496" r="6.8" fill="rgb(242,133,24)"/>
<circle cx="509.44" cy="391.49" r="6.8" fill="rgb(242,133,24)"/>
<circle cx="494.39" cy="281.21" r="6.8" fill="rgb(242,133,24)"/>
<circle cx="429.48" cy="190.79" r="6.8" fill="rgb(242,133,24)"/>
<circle cx="329.8" cy="141.25" r="6.8" fill="rgb(242,133,24)"/>
<circle cx="218.53" cy="144.12" r="6.8" fill="rgb(242,133,24)"/>
<circle cx="121.53" cy="198.72" r="6.8" fill="rgb(242,133,24)"/>
<circle cx="61.36" cy="292.37" r="6.8" fill="rgb(242,133,24)"/>
<circle cx="52.01" cy="403.28" r="6.8" fill="rgb(242,133,24)"/>
<circle cx="95.65" cy="505.68" r="6.8" fill="rgb(242,133,24)"/>
<circle cx="182.13" cy="575.76" r="6.8" fill="rgb(242,133,24)"/>
<circle cx="291.35" cy="597.22" r="6.8" fill="rgb(242,133,24)"/>
<circle cx="397.91" cy="565.07" r="6.8" fill="rgb(242,133,24)"/>
<circle cx="477.05" cy="486.8" r="6.8" fill="rgb(242,133,24)"/>
<circle cx="510.36" cy="380.59" r="6.8" fill="rgb(242,133,24)"/>
<circle cx="490.1" cy="271.14" r="6.8" fill="rgb(242,133,24)"/>
<circle cx="420.98" cy="183.9" r="6.8" fill="rgb(242,133,24)"/>
<circle cx="319.07" cy="139.14" r="6.8" fill="rgb(242,133,24)"/>
<circle cx="208.05" cy="147.28" r="6.8" fill="rgb(242,133,24)"/>
<circle cx="113.75" cy="206.41" r="6.8" fill="rgb(242,133,24)"/>
<circle cx="58.09" cy="302.8" r="6.8" fill="rgb(242,133,24)"/>
<circle cx="54" cy="414.04" r="6.8" fill="rgb(242,133,24)"/>
<circle cx="102.44" cy="514.25" r="6.8" fill="rgb(242,133,24)"/>
<circle cx="192.14" cy="580.16" r="6.8" fill="rgb(242,133,24)"/>
<circle cx="302.26" cy="596.42" r="6.8" fill="rgb(242,133,24)"/>
<circle cx="407.18" cy="559.26" r="6.8" fill="rgb(242,133,24)"/>
<circle cx="510.78" cy="366.65" r="6.8" fill="rgb(51,102,204)"/>
<circle cx="483.95" cy="258.62" r="6.8" fill="rgb(51,102,204)"/>
<circle cx="409.68" cy="175.71" r="6.8" fill="rgb(51,102,204)"/>
<circle cx="305.25" cy="137.19" r="6.8" fill="rgb(51,102,204)"/>
<circle cx="194.94" cy="152.02" r="6.8" fill="rgb(51,102,204)"/>
<circle cx="104.38" cy="216.74" r="6.8" fill="rgb(51,102,204)"/>
<circle cx="54.64" cy="316.32" r="6.8" fill="rgb(51,102,204)"/>
<circle cx="57.28" cy="427.6" r="6.8" fill="rgb(51,102,204)"/>
<circle cx="111.68" cy="524.71" r="6.8" fill="rgb(51,102,204)"/>
<circle cx="205.2" cy="585.07" r="6.8" fill="rgb(51,102,204)"/>
<circle cx="316.1" cy="594.65" r="6.8" fill="rgb(51,102,204)"/>
<circle cx="418.58" cy="551.23" r="6.8" fill="rgb(51,102,204)"/>
<circle cx="488.84" cy="464.89" r="6.8" fill="rgb(51,102,204)"/>
<circle cx="510.53" cy="355.71" r="6.8" fill="rgb(51,102,204)"/>
<circle cx="478.6" cy="249.08" r="6.8" fill="rgb(51,102,204)"/>
<circle cx="400.49" cy="169.78" r="6.8" fill="rgb(51,102,204)"/>
<circle cx="294.35" cy="136.25" r="6.8" fill="rgb(51,102,204)"/>
<circle cx="184.86" cy="156.29" r="6.8" fill="rgb(51,102,204)"/>
<circle cx="97.48" cy="225.23" r="6.8" fill="rgb(51,102,204)"/>
<circle cx="52.51" cy="327.05" r="6.8" fill="rgb(51,102,204)"/>
<circle cx="60.41" cy="438.08" r="6.8" fill="rgb(51,102,204)"/>
<circle cx="119.36" cy="532.5" r="6.8" fill="rgb(51,102,204)"/>
<circle cx="215.63" cy="588.36" r="6.8" fill="rgb(51,102,204)"/>
<circle cx="326.86" cy="592.68" r="6.8" fill="rgb(51,102,204)"/>
<circle cx="427.17" cy="544.45" r="6.8" fill="rgb(51,102,204)"/>
<circle cx="493.26" cy="454.88" r="6.8" fill="rgb(51,102,204)"/>
<circle cx="509.75" cy="344.8" r="6.8" fill="rgb(51,102,204)"/>
<circle cx="472.81" cy="239.8" r="6.8" fill="rgb(51,102,204)"/>
<circle cx="391.03" cy="164.29" r="6.8" fill="rgb(51,102,204)"/>
<circle cx="283.42" cy="135.83" r="6.8" fill="rgb(51,102,204)"/>
<circle cx="175" cy="161.03" r="6.8" fill="rgb(51,102,204)"/>
<circle cx="90.98" cy="234.03" r="6.8" fill="rgb(51,102,204)"/>
<circle cx="50.89" cy="337.87" r="6.8" fill="rgb(51,102,204)"/>
<circle cx="64.04" cy="448.4" r="6.8" fill="rgb(51,102,204)"/>
<circle cx="127.39" cy="539.92" r="6.8" fill="rgb(51,102,204)"/>
<circle cx="226.21" cy="591.16" r="6.8" fill="rgb(51,102,204)"/>
<circle cx="337.51" cy="590.2" r="6.8" fill="rgb(51,102,204)"/>
<circle cx="435.43" cy="537.28" r="6.8" fill="rgb(51,102,204)"/>
<circle cx="497.2" cy="444.68" r="6.8" fill="rgb(51,102,204)"/>
<circle cx="508.46" cy="333.94" r="6.8" fill="rgb(51,102,204)"/>
<circle cx="466.58" cy="230.81" r="6.8" fill="rgb(51,102,204)"/>
<circle cx="381.32" cy="159.25" r="6.8" fill="rgb(51,102,204)"/>
<circle cx="272.48" cy="135.92" r="6.8" fill="rgb(51,102,204)"/>
<circle cx="165.38" cy="166.23" r="6.8" fill="rgb(51,102,204)"/>
<circle cx="84.91" cy="243.13" r="6.8" fill="rgb(51,102,204)"/>
<circle cx="49.78" cy="348.75" r="6.8" fill="rgb(51,102,204)"/>
<circle cx="68.16" cy="458.53" r="6.8" fill="rgb(51,102,204)"/>
<circle cx="135.77" cy="546.95" r="6.8" fill="rgb(51,102,204)"/>
<circle cx="236.9" cy="593.45" r="6.8" fill="rgb(51,102,204)"/>
<circle cx="348.04" cy="587.23" r="6.8" fill="rgb(51,102,204)"/>
<circle cx="443.34" cy="529.72" r="6.8" fill="rgb(51,102,204)"/>
<circle cx="500.65" cy="434.3" r="6.8" fill="rgb(51,102,204)"/>
<circle cx="506.65" cy="323.15" r="6.8" fill="rgb(51,102,204)"/>
<circle cx="459.94" cy="222.12" r="6.8" fill="rgb(51,102,204)"/>
<circle cx="371.38" cy="154.68" r="6.8" fill="rgb(51,102,204)"/>
<circle cx="261.56" cy="136.53" r="6.8" fill="rgb(51,102,204)"/>
<circle cx="156.01" cy="171.88" r="6.8" fill="rgb(51,102,204)"/>
<circle cx="79.28" cy="252.51" r="6.8" fill="rgb(51,102,204)"/>
<circle cx="49.19" cy="359.68" r="6.8" fill="rgb(51,102,204)"/>
<circle cx="72.75" cy="468.46" r="6.8" fill="rgb(51,102,204)"/>
<circle cx="144.48" cy="553.58" r="6.8" fill="rgb(51,102,204)"/>
<circle cx="247.7" cy="595.24" r="6.8" fill="rgb(51,102,204)"/>
<circle cx="358.41" cy="583.75" r="6.8" fill="rgb(51,102,204)"/>
<circle cx="450.88" cy="521.79" r="6.8" fill="rgb(51,102,204)"/>
<line x1="279.44" y1="366.85" x2="556.95" y2="366.85" stroke="#000" stroke-width="2.4"/>
</g>
<g clip-path="url(#cr)">
<circle cx="787.81" cy="366.65" r="230.85" fill="none" stroke="#000" stroke-width="1.6"/>
<polygon points="815.63,595.82 819.97,583.66 815.27,584.23 788.84,366.52 786.77,366.78 813.21,584.48 808.51,585.05" fill="rgb(247,137,45)" fill-opacity="0.008" stroke="rgb(247,137,45)" stroke-opacity="0.008" stroke-width="2" stroke-linejoin="miter"/>
<polygon points="705.94,582.5 715.43,573.75 711.01,572.07 788.78,367.02 786.83,366.28 709.07,571.34 704.64,569.66" fill="rgb(247,137,45)" fill-opacity="0.016" stroke="rgb(247,137,45)" stroke-opacity="0.016" stroke-width="2" stroke-linejoin="miter"/>
<polygon points="615.01,519.73 627.48,516.4 624.34,512.86 788.49,367.43 787.12,365.87 622.96,511.3 619.82,507.76" fill="rgb(247,137,45)" fill-opacity="0.023" stroke="rgb(247,137,45)" stroke-opacity="0.023" stroke-width="2" stroke-linejoin="miter"/>
<polygon points="563.66,421.9 576.25,424.74 575.12,420.14 788.05,367.66 787.56,365.64 574.62,418.13 573.49,413.53" fill="rgb(247,137,45)" fill-opacity="0.031" stroke="rgb(247,137,45)" stroke-opacity="0.031" stroke-width="2" stroke-linejoin="miter"/>
<polygon points="563.66,311.4 573.49,319.77 574.62,315.17 787.56,367.66 788.05,365.64 575.12,313.16 576.25,308.56" fill="rgb(247,137,45)" fill-opacity="0.039" stroke="rgb(247,137,45)" stroke-opacity="0.039" stroke-width="2" stroke-linejoin="miter"/>
<polygon points="615.01,213.57 619.82,225.54 622.96,222 787.12,367.43 788.49,365.87 624.34,220.44 627.48,216.9" fill="rgb(247,137,45)" fill-opacity="0.047" stroke="rgb(247,137,45)" stroke-opacity="0.047" stroke-width="2" stroke-linejoin="miter"/>
<polygon points="705.94,150.8 704.64,163.64 709.07,161.96 786.83,367.02 788.78,366.28 711.01,161.23 715.43,159.55" fill="rgb(247,137,45)" fill-opacity="0.055" stroke="rgb(247,137,45)" stroke-opacity="0.055" stroke-width="2" stroke-linejoin="miter"/>
<polygon points="815.63,137.48 808.51,148.25 813.21,148.82 786.77,366.52 788.84,366.78 815.27,149.07 819.97,149.64" fill="rgb(247,137,45)" fill-opacity="0.062" stroke="rgb(247,137,45)" stroke-opacity="0.062" stroke-width="2" stroke-linejoin="miter"/>
<polygon points="918.94,176.66 907.64,182.89 911.53,185.57 786.95,366.06 788.66,367.24 913.24,186.75 917.14,189.44" fill="rgb(247,137,45)" fill-opacity="0.070" stroke="rgb(247,137,45)" stroke-opacity="0.070" stroke-width="2" stroke-linejoin="miter"/>
<polygon points="992.21,259.37 979.31,259.62 981.51,263.81 787.32,365.73 788.29,367.57 982.47,265.65 984.67,269.84" fill="rgb(247,137,45)" fill-opacity="0.078" stroke="rgb(247,137,45)" stroke-opacity="0.078" stroke-width="2" stroke-linejoin="miter"/>
<polygon points="1018.66,366.65 1007.11,360.88 1007.11,365.61 787.81,365.61 787.81,367.69 1007.11,367.69 1007.11,372.42" fill="rgb(247,137,45)" fill-opacity="0.086" stroke="rgb(247,137,45)" stroke-opacity="0.086" stroke-width="2" stroke-linejoin="miter"/>
<polygon points="992.21,473.93 984.67,463.46 982.47,467.65 788.29,365.73 787.32,367.57 981.51,469.49 979.31,473.68" fill="rgb(247,137,45)" fill-opacity="0.094" stroke="rgb(247,137,45)" stroke-opacity="0.094" stroke-width="2" stroke-linejoin="miter"/>
<polygon points="918.94,556.64 917.14,543.86 913.24,546.55 788.66,366.06 786.95,367.24 911.53,547.73 907.64,550.41" fill="rgb(247,137,45)" fill-opacity="0.102" stroke="rgb(247,137,45)" stroke-opacity="0.102" stroke-width="2" stroke-linejoin="miter"/>
<polygon points="815.63,595.82 819.97,583.66 815.27,584.23 788.84,366.52 786.77,366.78 813.21,584.48 808.51,585.05" fill="rgb(247,137,45)" fill-opacity="0.109" stroke="rgb(247,137,45)" stroke-opacity="0.109" stroke-width="2" stroke-linejoin="miter"/>
<polygon points="705.94,582.5 715.43,573.75 711.01,572.07 788.78,367.02 786.83,366.28 709.07,571.34 704.64,569.66" fill="rgb(247,137,45)" fill-opacity="0.117" stroke="rgb(247,137,45)" stroke-opacity="0.117" stroke-width="2" stroke-linejoin="miter"/>
<polygon points="615.01,519.73 627.48,516.4 624.34,512.86 788.49,367.43 787.12,365.87 622.96,511.3 619.82,507.76" fill="rgb(247,137,45)" fill-opacity="0.125" stroke="rgb(247,137,45)" stroke-opacity="0.125" stroke-width="2" stroke-linejoin="miter"/>
<polygon points="563.66,421.9 576.25,424.74 575.12,420.14 788.05,367.66 787.56,365.64 574.62,418.13 573.49,413.53" fill="rgb(247,137,45)" fill-opacity="0.133" stroke="rgb(247,137,45)" stroke-opacity="0.133" stroke-width="2" stroke-linejoin="miter"/>
<polygon points="563.66,311.4 573.49,319.77 574.62,315.17 787.56,367.66 788.05,365.64 575.12,313.16 576.25,308.56" fill="rgb(247,137,45)" fill-opacity="0.141" stroke="rgb(247,137,45)" stroke-opacity="0.141" stroke-width="2" stroke-linejoin="miter"/>
<polygon points="615.01,213.57 619.82,225.54 622.96,222 787.12,367.43 788.49,365.87 624.34,220.44 627.48,216.9" fill="rgb(247,137,45)" fill-opacity="0.148" stroke="rgb(247,137,45)" stroke-opacity="0.148" stroke-width="2" stroke-linejoin="miter"/>
<polygon points="705.94,150.8 704.64,163.64 709.07,161.96 786.83,367.02 788.78,366.28 711.01,161.23 715.43,159.55" fill="rgb(247,137,45)" fill-opacity="0.156" stroke="rgb(247,137,45)" stroke-opacity="0.156" stroke-width="2" stroke-linejoin="miter"/>
<polygon points="815.63,137.48 808.51,148.25 813.21,148.82 786.77,366.52 788.84,366.78 815.27,149.07 819.97,149.64" fill="rgb(247,137,45)" fill-opacity="0.164" stroke="rgb(247,137,45)" stroke-opacity="0.164" stroke-width="2" stroke-linejoin="miter"/>
<polygon points="918.94,176.66 907.64,182.89 911.53,185.57 786.95,366.06 788.66,367.24 913.24,186.75 917.14,189.44" fill="rgb(247,137,45)" fill-opacity="0.172" stroke="rgb(247,137,45)" stroke-opacity="0.172" stroke-width="2" stroke-linejoin="miter"/>
<polygon points="992.21,259.37 979.31,259.62 981.51,263.81 787.32,365.73 788.29,367.57 982.47,265.65 984.67,269.84" fill="rgb(247,137,45)" fill-opacity="0.180" stroke="rgb(247,137,45)" stroke-opacity="0.180" stroke-width="2" stroke-linejoin="miter"/>
<polygon points="1018.66,366.65 1007.11,360.88 1007.11,365.61 787.81,365.61 787.81,367.69 1007.11,367.69 1007.11,372.42" fill="rgb(247,137,45)" fill-opacity="0.188" stroke="rgb(247,137,45)" stroke-opacity="0.188" stroke-width="2" stroke-linejoin="miter"/>
<polygon points="992.21,473.93 984.67,463.46 982.47,467.65 788.29,365.73 787.32,367.57 981.51,469.49 979.31,473.68" fill="rgb(247,137,45)" fill-opacity="0.195" stroke="rgb(247,137,45)" stroke-opacity="0.195" stroke-width="2" stroke-linejoin="miter"/>
<polygon points="918.94,556.64 917.14,543.86 913.24,546.55 788.66,366.06 786.95,367.24 911.53,547.73 907.64,550.41" fill="rgb(247,137,45)" fill-opacity="0.203" stroke="rgb(247,137,45)" stroke-opacity="0.203" stroke-width="2" stroke-linejoin="miter"/>
<polygon points="815.63,595.82 819.97,583.66 815.27,584.23 788.84,366.52 786.77,366.78 813.21,584.48 808.51,585.05" fill="rgb(247,137,45)" fill-opacity="0.211" stroke="rgb(247,137,45)" stroke-opacity="0.211" stroke-width="2" stroke-linejoin="miter"/>
<polygon points="705.94,582.5 715.43,573.75 711.01,572.07 788.78,367.02 786.83,366.28 709.07,571.34 704.64,569.66" fill="rgb(247,137,45)" fill-opacity="0.219" stroke="rgb(247,137,45)" stroke-opacity="0.219" stroke-width="2" stroke-linejoin="miter"/>
<polygon points="615.01,519.73 627.48,516.4 624.34,512.86 788.49,367.43 787.12,365.87 622.96,511.3 619.82,507.76" fill="rgb(247,137,45)" fill-opacity="0.227" stroke="rgb(247,137,45)" stroke-opacity="0.227" stroke-width="2" stroke-linejoin="miter"/>
<polygon points="563.66,421.9 576.25,424.74 575.12,420.14 788.05,367.66 787.56,365.64 574.62,418.13 573.49,413.53" fill="rgb(247,137,45)" fill-opacity="0.234" stroke="rgb(247,137,45)" stroke-opacity="0.234" stroke-width="2" stroke-linejoin="miter"/>
<polygon points="563.66,311.4 573.49,319.77 574.62,315.17 787.56,367.66 788.05,365.64 575.12,313.16 576.25,308.56" fill="rgb(247,137,45)" fill-opacity="0.242" stroke="rgb(247,137,45)" stroke-opacity="0.242" stroke-width="2" stroke-linejoin="miter"/>
<polygon points="615.01,213.57 619.82,225.54 622.96,222 787.12,367.43 788.49,365.87 624.34,220.44 627.48,216.9" fill="rgb(247,137,45)" fill-opacity="0.250" stroke="rgb(247,137,45)" stroke-opacity="0.250" stroke-width="2" stroke-linejoin="miter"/>
<polygon points="705.94,150.8 704.64,163.64 709.07,161.96 786.83,367.02 788.78,366.28 711.01,161.23 715.43,159.55" fill="rgb(247,137,45)" fill-opacity="0.258" stroke="rgb(247,137,45)" stroke-opacity="0.258" stroke-width="2" stroke-linejoin="miter"/>
<polygon points="815.63,137.48 808.51,148.25 813.21,148.82 786.77,366.52 788.84,366.78 815.27,149.07 819.97,149.64" fill="rgb(247,137,45)" fill-opacity="0.266" stroke="rgb(247,137,45)" stroke-opacity="0.266" stroke-width="2" stroke-linejoin="miter"/>
<polygon points="918.94,176.66 907.64,182.89 911.53,185.57 786.95,366.06 788.66,367.24 913.24,186.75 917.14,189.44" fill="rgb(247,137,45)" fill-opacity="0.273" stroke="rgb(247,137,45)" stroke-opacity="0.273" stroke-width="2" stroke-linejoin="miter"/>
<polygon points="992.21,259.37 979.31,259.62 981.51,263.81 787.32,365.73 788.29,367.57 982.47,265.65 984.67,269.84" fill="rgb(247,137,45)" fill-opacity="0.281" stroke="rgb(247,137,45)" stroke-opacity="0.281" stroke-width="2" stroke-linejoin="miter"/>
<polygon points="1018.66,366.65 1007.11,360.88 1007.11,365.61 787.81,365.61 787.81,367.69 1007.11,367.69 1007.11,372.42" fill="rgb(247,137,45)" fill-opacity="0.289" stroke="rgb(247,137,45)" stroke-opacity="0.289" stroke-width="2" stroke-linejoin="miter"/>
<polygon points="992.21,473.93 984.67,463.46 982.47,467.65 788.29,365.73 787.32,367.57 981.51,469.49 979.31,473.68" fill="rgb(247,137,45)" fill-opacity="0.297" stroke="rgb(247,137,45)" stroke-opacity="0.297" stroke-width="2" stroke-linejoin="miter"/>
<polygon points="918.94,556.64 917.14,543.86 913.24,546.55 788.66,366.06 786.95,367.24 911.53,547.73 907.64,550.41" fill="rgb(247,137,45)" fill-opacity="0.305" stroke="rgb(247,137,45)" stroke-opacity="0.305" stroke-width="2" stroke-linejoin="miter"/>
<polygon points="815.63,595.82 819.97,583.66 815.27,584.23 788.84,366.52 786.77,366.78 813.21,584.48 808.51,585.05" fill="rgb(247,137,45)" fill-opacity="0.312" stroke="rgb(247,137,45)" stroke-opacity="0.312" stroke-width="2" stroke-linejoin="miter"/>
<polygon points="705.94,582.5 715.43,573.75 711.01,572.07 788.78,367.02 786.83,366.28 709.07,571.34 704.64,569.66" fill="rgb(247,137,45)" fill-opacity="0.320" stroke="rgb(247,137,45)" stroke-opacity="0.320" stroke-width="2" stroke-linejoin="miter"/>
<polygon points="615.01,519.73 627.48,516.4 624.34,512.86 788.49,367.43 787.12,365.87 622.96,511.3 619.82,507.76" fill="rgb(247,137,45)" fill-opacity="0.328" stroke="rgb(247,137,45)" stroke-opacity="0.328" stroke-width="2" stroke-linejoin="miter"/>
<polygon points="563.66,421.9 576.25,424.74 575.12,420.14 788.05,367.66 787.56,365.64 574.62,418.13 573.49,413.53" fill="rgb(247,137,45)" fill-opacity="0.336" stroke="rgb(247,137,45)" stroke-opacity="0.336" stroke-width="2" stroke-linejoin="miter"/>
<polygon points="563.66,311.4 573.49,319.77 574.62,315.17 787.56,367.66 788.05,365.64 575.12,313.16 576.25,308.56" fill="rgb(247,137,45)" fill-opacity="0.344" stroke="rgb(247,137,45)" stroke-opacity="0.344" stroke-width="2" stroke-linejoin="miter"/>
<polygon points="615.01,213.57 619.82,225.54 622.96,222 787.12,367.43 788.49,365.87 624.34,220.44 627.48,216.9" fill="rgb(247,137,45)" fill-opacity="0.352" stroke="rgb(247,137,45)" stroke-opacity="0.352" stroke-width="2" stroke-linejoin="miter"/>
<polygon points="705.94,150.8 704.64,163.64 709.07,161.96 786.83,367.02 788.78,366.28 711.01,161.23 715.43,159.55" fill="rgb(247,137,45)" fill-opacity="0.359" stroke="rgb(247,137,45)" stroke-opacity="0.359" stroke-width="2" stroke-linejoin="miter"/>
<polygon points="815.63,137.48 808.51,148.25 813.21,148.82 786.77,366.52 788.84,366.78 815.27,149.07 819.97,149.64" fill="rgb(247,137,45)" fill-opacity="0.367" stroke="rgb(247,137,45)" stroke-opacity="0.367" stroke-width="2" stroke-linejoin="miter"/>
<polygon points="918.94,176.66 907.64,182.89 911.53,185.57 786.95,366.06 788.66,367.24 913.24,186.75 917.14,189.44" fill="rgb(247,137,45)" fill-opacity="0.375" stroke="rgb(247,137,45)" stroke-opacity="0.375" stroke-width="2" stroke-linejoin="miter"/>
<polygon points="992.21,259.37 979.31,259.62 981.51,263.81 787.32,365.73 788.29,367.57 982.47,265.65 984.67,269.84" fill="rgb(247,137,45)" fill-opacity="0.383" stroke="rgb(247,137,45)" stroke-opacity="0.383" stroke-width="2" stroke-linejoin="miter"/>
<polygon points="1018.66,366.65 1007.11,360.88 1007.11,365.61 787.81,365.61 787.81,367.69 1007.11,367.69 1007.11,372.42" fill="rgb(247,137,45)" fill-opacity="0.391" stroke="rgb(247,137,45)" stroke-opacity="0.391" stroke-width="2" stroke-linejoin="miter"/>
<polygon points="992.21,473.93 984.67,463.46 982.47,467.65 788.29,365.73 787.32,367.57 981.51,469.49 979.31,473.68" fill="rgb(247,137,45)" fill-opacity="0.398" stroke="rgb(247,137,45)" stroke-opacity="0.398" stroke-width="2" stroke-linejoin="miter"/>
<polygon points="918.94,556.64 917.14,543.86 913.24,546.55 788.66,366.06 786.95,367.24 911.53,547.73 907.64,550.41" fill="rgb(247,137,45)" fill-opacity="0.406" stroke="rgb(247,137,45)" stroke-opacity="0.406" stroke-width="2" stroke-linejoin="miter"/>
<polygon points="815.63,595.82 819.97,583.66 815.27,584.23 788.84,366.52 786.77,366.78 813.21,584.48 808.51,585.05" fill="rgb(247,137,45)" fill-opacity="0.414" stroke="rgb(247,137,45)" stroke-opacity="0.414" stroke-width="2" stroke-linejoin="miter"/>
<polygon points="705.94,582.5 715.43,573.75 711.01,572.07 788.78,367.02 786.83,366.28 709.07,571.34 704.64,569.66" fill="rgb(247,137,45)" fill-opacity="0.422" stroke="rgb(247,137,45)" stroke-opacity="0.422" stroke-width="2" stroke-linejoin="miter"/>
<polygon points="615.01,519.73 627.48,516.4 624.34,512.86 788.49,367.43 787.12,365.87 622.96,511.3 619.82,507.76" fill="rgb(247,137,45)" fill-opacity="0.430" stroke="rgb(247,137,45)" stroke-opacity="0.430" stroke-width="2" stroke-linejoin="miter"/>
<polygon points="563.66,421.9 576.25,424.74 575.12,420.14 788.05,367.66 787.56,365.64 574.62,418.13 573.49,413.53" fill="rgb(247,137,45)" fill-opacity="0.438" stroke="rgb(247,137,45)" stroke-opacity="0.438" stroke-width="2" stroke-linejoin="miter"/>
<polygon points="563.66,311.4 573.49,319.77 574.62,315.17 787.56,367.66 788.05,365.64 575.12,313.16 576.25,308.56" fill="rgb(247,137,45)" fill-opacity="0.445" stroke="rgb(247,137,45)" stroke-opacity="0.445" stroke-width="2" stroke-linejoin="miter"/>
<polygon points="615.01,213.57 619.82,225.54 622.96,222 787.12,367.43 788.49,365.87 624.34,220.44 627.48,216.9" fill="rgb(247,137,45)" fill-opacity="0.453" stroke="rgb(247,137,45)" stroke-opacity="0.453" stroke-width="2" stroke-linejoin="miter"/>
<polygon points="705.94,150.8 704.64,163.64 709.07,161.96 786.83,367.02 788.78,366.28 711.01,161.23 715.43,159.55" fill="rgb(247,137,45)" fill-opacity="0.461" stroke="rgb(247,137,45)" stroke-opacity="0.461" stroke-width="2" stroke-linejoin="miter"/>
<polygon points="815.63,137.48 808.51,148.25 813.21,148.82 786.77,366.52 788.84,366.78 815.27,149.07 819.97,149.64" fill="rgb(247,137,45)" fill-opacity="0.469" stroke="rgb(247,137,45)" stroke-opacity="0.469" stroke-width="2" stroke-linejoin="miter"/>
<polygon points="918.94,176.66 907.64,182.89 911.53,185.57 786.95,366.06 788.66,367.24 913.24,186.75 917.14,189.44" fill="rgb(247,137,45)" fill-opacity="0.477" stroke="rgb(247,137,45)" stroke-opacity="0.477" stroke-width="2" stroke-linejoin="miter"/>
<polygon points="992.21,259.37 979.31,259.62 981.51,263.81 787.32,365.73 788.29,367.57 982.47,265.65 984.67,269.84" fill="rgb(247,137,45)" fill-opacity="0.484" stroke="rgb(247,137,45)" stroke-opacity="0.484" stroke-width="2" stroke-linejoin="miter"/>
<polygon points="1018.66,366.65 1007.11,360.88 1007.11,365.61 787.81,365.61 787.81,367.69 1007.11,367.69 1007.11,372.42" fill="rgb(247,137,45)" fill-opacity="0.492" stroke="rgb(247,137,45)" stroke-opacity="0.492" stroke-width="2" stroke-linejoin="miter"/>
<polygon points="992.21,473.93 984.67,463.46 982.47,467.65 788.29,365.73 787.32,367.57 981.51,469.49 979.31,473.68" fill="rgb(247,137,45)" fill-opacity="0.500" stroke="rgb(247,137,45)" stroke-opacity="0.500" stroke-width="2" stroke-linejoin="miter"/>
<polygon points="918.94,556.64 917.14,543.86 913.24,546.55 788.66,366.06 786.95,367.24 911.53,547.73 907.64,550.41" fill="rgb(51,102,204)" fill-opacity="0.508" stroke="rgb(51,102,204)" stroke-opacity="0.508" stroke-width="2" stroke-linejoin="miter"/>
<polygon points="815.63,595.82 819.97,583.66 815.27,584.23 788.84,366.52 786.77,366.78 813.21,584.48 808.51,585.05" fill="rgb(51,102,204)" fill-opacity="0.516" stroke="rgb(51,102,204)" stroke-opacity="0.516" stroke-width="2" stroke-linejoin="miter"/>
<polygon points="705.94,582.5 715.43,573.75 711.01,572.07 788.78,367.02 786.83,366.28 709.07,571.34 704.64,569.66" fill="rgb(51,102,204)" fill-opacity="0.523" stroke="rgb(51,102,204)" stroke-opacity="0.523" stroke-width="2" stroke-linejoin="miter"/>
<polygon points="615.01,519.73 627.48,516.4 624.34,512.86 788.49,367.43 787.12,365.87 622.96,511.3 619.82,507.76" fill="rgb(51,102,204)" fill-opacity="0.531" stroke="rgb(51,102,204)" stroke-opacity="0.531" stroke-width="2" stroke-linejoin="miter"/>
<polygon points="563.66,421.9 576.25,424.74 575.12,420.14 788.05,367.66 787.56,365.64 574.62,418.13 573.49,413.53" fill="rgb(51,102,204)" fill-opacity="0.539" stroke="rgb(51,102,204)" stroke-opacity="0.539" stroke-width="2" stroke-linejoin="miter"/>
<polygon points="563.66,311.4 573.49,319.77 574.62,315.17 787.56,367.66 788.05,365.64 575.12,313.16 576.25,308.56" fill="rgb(51,102,204)" fill-opacity="0.547" stroke="rgb(51,102,204)" stroke-opacity="0.547" stroke-width="2" stroke-linejoin="miter"/>
<polygon points="615.01,213.57 619.82,225.54 622.96,222 787.12,367.43 788.49,365.87 624.34,220.44 627.48,216.9" fill="rgb(51,102,204)" fill-opacity="0.555" stroke="rgb(51,102,204)" stroke-opacity="0.555" stroke-width="2" stroke-linejoin="miter"/>
<polygon points="705.94,150.8 704.64,163.64 709.07,161.96 786.83,367.02 788.78,366.28 711.01,161.23 715.43,159.55" fill="rgb(51,102,204)" fill-opacity="0.562" stroke="rgb(51,102,204)" stroke-opacity="0.562" stroke-width="2" stroke-linejoin="miter"/>
<polygon points="815.63,137.48 808.51,148.25 813.21,148.82 786.77,366.52 788.84,366.78 815.27,149.07 819.97,149.64" fill="rgb(51,102,204)" fill-opacity="0.570" stroke="rgb(51,102,204)" stroke-opacity="0.570" stroke-width="2" stroke-linejoin="miter"/>
<polygon points="918.94,176.66 907.64,182.89 911.53,185.57 786.95,366.06 788.66,367.24 913.24,186.75 917.14,189.44" fill="rgb(51,102,204)" fill-opacity="0.578" stroke="rgb(51,102,204)" stroke-opacity="0.578" stroke-width="2" stroke-linejoin="miter"/>
<polygon points="992.21,259.37 979.31,259.62 981.51,263.81 787.32,365.73 788.29,367.57 982.47,265.65 984.67,269.84" fill="rgb(51,102,204)" fill-opacity="0.586" stroke="rgb(51,102,204)" stroke-opacity="0.586" stroke-width="2" stroke-linejoin="miter"/>
<polygon points="1018.66,366.65 1007.11,360.88 1007.11,365.61 787.81,365.61 787.81,367.69 1007.11,367.69 1007.11,372.42" fill="rgb(51,102,204)" fill-opacity="0.594" stroke="rgb(51,102,204)" stroke-opacity="0.594" stroke-width="2" stroke-linejoin="miter"/>
<polygon points="992.21,473.93 984.67,463.46 982.47,467.65 788.29,365.73 787.32,367.57 981.51,469.49 979.31,473.68" fill="rgb(51,102,204)" fill-opacity="0.602" stroke="rgb(51,102,204)" stroke-opacity="0.602" stroke-width="2" stroke-linejoin="miter"/>
<polygon points="918.94,556.64 917.14,543.86 913.24,546.55 788.66,366.06 786.95,367.24 911.53,547.73 907.64,550.41" fill="rgb(51,102,204)" fill-opacity="0.609" stroke="rgb(51,102,204)" stroke-opacity="0.609" stroke-width="2" stroke-linejoin="miter"/>
<polygon points="815.63,595.82 819.97,583.66 815.27,584.23 788.84,366.52 786.77,366.78 813.21,584.48 808.51,585.05" fill="rgb(51,102,204)" fill-opacity="0.617" stroke="rgb(51,102,204)" stroke-opacity="0.617" stroke-width="2" stroke-linejoin="miter"/>
<polygon points="705.94,582.5 715.43,573.75 711.01,572.07 788.78,367.02 786.83,366.28 709.07,571.34 704.64,569.66" fill="rgb(51,102,204)" fill-opacity="0.625" stroke="rgb(51,102,204)" stroke-opacity="0.625" stroke-width="2" stroke-linejoin="miter"/>
<polygon points="615.01,519.73 627.48,516.4 624.34,512.86 788.49,367.43 787.12,365.87 622.96,511.3 619.82,507.76" fill="rgb(51,102,204)" fill-opacity="0.633" stroke="rgb(51,102,204)" stroke-opacity="0.633" stroke-width="2" stroke-linejoin="miter"/>
<polygon points="563.66,421.9 576.25,424.74 575.12,420.14 788.05,367.66 787.56,365.64 574.62,418.13 573.49,413.53" fill="rgb(51,102,204)" fill-opacity="0.641" stroke="rgb(51,102,204)" stroke-opacity="0.641" stroke-width="2" stroke-linejoin="miter"/>
<polygon points="563.66,311.4 573.49,319.77 574.62,315.17 787.56,367.66 788.05,365.64 575.12,313.16 576.25,308.56" fill="rgb(51,102,204)" fill-opacity="0.648" stroke="rgb(51,102,204)" stroke-opacity="0.648" stroke-width="2" stroke-linejoin="miter"/>
<polygon points="615.01,213.57 619.82,225.54 622.96,222 787.12,367.43 788.49,365.87 624.34,220.44 627.48,216.9" fill="rgb(51,102,204)" fill-opacity="0.656" stroke="rgb(51,102,204)" stroke-opacity="0.656" stroke-width="2" stroke-linejoin="miter"/>
<polygon points="705.94,150.8 704.64,163.64 709.07,161.96 786.83,367.02 788.78,366.28 711.01,161.23 715.43,159.55" fill="rgb(51,102,204)" fill-opacity="0.664" stroke="rgb(51,102,204)" stroke-opacity="0.664" stroke-width="2" stroke-linejoin="miter"/>
<polygon points="815.63,137.48 808.51,148.25 813.21,148.82 786.77,366.52 788.84,366.78 815.27,149.07 819.97,149.64" fill="rgb(51,102,204)" fill-opacity="0.672" stroke="rgb(51,102,204)" stroke-opacity="0.672" stroke-width="2" stroke-linejoin="miter"/>
<polygon points="918.94,176.66 907.64,182.89 911.53,185.57 786.95,366.06 788.66,367.24 913.24,186.75 917.14,189.44" fill="rgb(51,102,204)" fill-opacity="0.680" stroke="rgb(51,102,204)" stroke-opacity="0.680" stroke-width="2" stroke-linejoin="miter"/>
<polygon points="992.21,259.37 979.31,259.62 981.51,263.81 787.32,365.73 788.29,367.57 982.47,265.65 984.67,269.84" fill="rgb(51,102,204)" fill-opacity="0.688" stroke="rgb(51,102,204)" stroke-opacity="0.688" stroke-width="2" stroke-linejoin="miter"/>
<polygon points="1018.66,366.65 1007.11,360.88 1007.11,365.61 787.81,365.61 787.81,367.69 1007.11,367.69 1007.11,372.42" fill="rgb(51,102,204)" fill-opacity="0.695" stroke="rgb(51,102,204)" stroke-opacity="0.695" stroke-width="2" stroke-linejoin="miter"/>
<polygon points="992.21,473.93 984.67,463.46 982.47,467.65 788.29,365.73 787.32,367.57 981.51,469.49 979.31,473.68" fill="rgb(51,102,204)" fill-opacity="0.703" stroke="rgb(51,102,204)" stroke-opacity="0.703" stroke-width="2" stroke-linejoin="miter"/>
<polygon points="918.94,556.64 917.14,543.86 913.24,546.55 788.66,366.06 786.95,367.24 911.53,547.73 907.64,550.41" fill="rgb(51,102,204)" fill-opacity="0.711" stroke="rgb(51,102,204)" stroke-opacity="0.711" stroke-width="2" stroke-linejoin="miter"/>
<polygon points="815.63,595.82 819.97,583.66 815.27,584.23 788.84,366.52 786.77,366.78 813.21,584.48 808.51,585.05" fill="rgb(51,102,204)" fill-opacity="0.719" stroke="rgb(51,102,204)" stroke-opacity="0.719" stroke-width="2" stroke-linejoin="miter"/>
<polygon points="705.94,582.5 715.43,573.75 711.01,572.07 788.78,367.02 786.83,366.28 709.07,571.34 704.64,569.66" fill="rgb(51,102,204)" fill-opacity="0.727" stroke="rgb(51,102,204)" stroke-opacity="0.727" stroke-width="2" stroke-linejoin="miter"/>
<polygon points="615.01,519.73 627.48,516.4 624.34,512.86 788.49,367.43 787.12,365.87 622.96,511.3 619.82,507.76" fill="rgb(51,102,204)" fill-opacity="0.734" stroke="rgb(51,102,204)" stroke-opacity="0.734" stroke-width="2" stroke-linejoin="miter"/>
<polygon points="563.66,421.9 576.25,424.74 575.12,420.14 788.05,367.66 787.56,365.64 574.62,418.13 573.49,413.53" fill="rgb(51,102,204)" fill-opacity="0.742" stroke="rgb(51,102,204)" stroke-opacity="0.742" stroke-width="2" stroke-linejoin="miter"/>
<polygon points="563.66,311.4 573.49,319.77 574.62,315.17 787.56,367.66 788.05,365.64 575.12,313.16 576.25,308.56" fill="rgb(51,102,204)" fill-opacity="0.750" stroke="rgb(51,102,204)" stroke-opacity="0.750" stroke-width="2" stroke-linejoin="miter"/>
<polygon points="615.01,213.57 619.82,225.54 622.96,222 787.12,367.43 788.49,365.87 624.34,220.44 627.48,216.9" fill="rgb(51,102,204)" fill-opacity="0.758" stroke="rgb(51,102,204)" stroke-opacity="0.758" stroke-width="2" stroke-linejoin="miter"/>
<polygon points="705.94,150.8 704.64,163.64 709.07,161.96 786.83,367.02 788.78,366.28 711.01,161.23 715.43,159.55" fill="rgb(51,102,204)" fill-opacity="0.766" stroke="rgb(51,102,204)" stroke-opacity="0.766" stroke-width="2" stroke-linejoin="miter"/>
<polygon points="815.63,137.48 808.51,148.25 813.21,148.82 786.77,366.52 788.84,366.78 815.27,149.07 819.97,149.64" fill="rgb(51,102,204)" fill-opacity="0.773" stroke="rgb(51,102,204)" stroke-opacity="0.773" stroke-width="2" stroke-linejoin="miter"/>
<polygon points="918.94,176.66 907.64,182.89 911.53,185.57 786.95,366.06 788.66,367.24 913.24,186.75 917.14,189.44" fill="rgb(51,102,204)" fill-opacity="0.781" stroke="rgb(51,102,204)" stroke-opacity="0.781" stroke-width="2" stroke-linejoin="miter"/>
<polygon points="992.21,259.37 979.31,259.62 981.51,263.81 787.32,365.73 788.29,367.57 982.47,265.65 984.67,269.84" fill="rgb(51,102,204)" fill-opacity="0.789" stroke="rgb(51,102,204)" stroke-opacity="0.789" stroke-width="2" stroke-linejoin="miter"/>
<polygon points="1018.66,366.65 1007.11,360.88 1007.11,365.61 787.81,365.61 787.81,367.69 1007.11,367.69 1007.11,372.42" fill="rgb(51,102,204)" fill-opacity="0.797" stroke="rgb(51,102,204)" stroke-opacity="0.797" stroke-width="2" stroke-linejoin="miter"/>
<polygon points="992.21,473.93 984.67,463.46 982.47,467.65 788.29,365.73 787.32,367.57 981.51,469.49 979.31,473.68" fill="rgb(51,102,204)" fill-opacity="0.805" stroke="rgb(51,102,204)" stroke-opacity="0.805" stroke-width="2" stroke-linejoin="miter"/>
<polygon points="918.94,556.64 917.14,543.86 913.24,546.55 788.66,366.06 786.95,367.24 911.53,547.73 907.64,550.41" fill="rgb(51,102,204)" fill-opacity="0.812" stroke="rgb(51,102,204)" stroke-opacity="0.812" stroke-width="2" stroke-linejoin="miter"/>
<polygon points="815.63,595.82 819.97,583.66 815.27,584.23 788.84,366.52 786.77,366.78 813.21,584.48 808.51,585.05" fill="rgb(51,102,204)" fill-opacity="0.820" stroke="rgb(51,102,204)" stroke-opacity="0.820" stroke-width="2" stroke-linejoin="miter"/>
<polygon points="705.94,582.5 715.43,573.75 711.01,572.07 788.78,367.02 786.83,366.28 709.07,571.34 704.64,569.66" fill="rgb(51,102,204)" fill-opacity="0.828" stroke="rgb(51,102,204)" stroke-opacity="0.828" stroke-width="2" stroke-linejoin="miter"/>
<polygon points="615.01,519.73 627.48,516.4 624.34,512.86 788.49,367.43 787.12,365.87 622.96,511.3 619.82,507.76" fill="rgb(51,102,204)" fill-opacity="0.836" stroke="rgb(51,102,204)" stroke-opacity="0.836" stroke-width="2" stroke-linejoin="miter"/>
<polygon points="563.66,421.9 576.25,424.74 575.12,420.14 788.05,367.66 787.56,365.64 574.62,418.13 573.49,413.53" fill="rgb(51,102,204)" fill-opacity="0.844" stroke="rgb(51,102,204)" stroke-opacity="0.844" stroke-width="2" stroke-linejoin="miter"/>
<polygon points="563.66,311.4 573.49,319.77 574.62,315.17 787.56,367.66 788.05,365.64 575.12,313.16 576.25,308.56" fill="rgb(51,102,204)" fill-opacity="0.852" stroke="rgb(51,102,204)" stroke-opacity="0.852" stroke-width="2" stroke-linejoin="miter"/>
<polygon points="615.01,213.57 619.82,225.54 622.96,222 787.12,367.43 788.49,365.87 624.34,220.44 627.48,216.9" fill="rgb(51,102,204)" fill-opacity="0.859" stroke="rgb(51,102,204)" stroke-opacity="0.859" stroke-width="2" stroke-linejoin="miter"/>
<polygon points="705.94,150.8 704.64,163.64 709.07,161.96 786.83,367.02 788.78,366.28 711.01,161.23 715.43,159.55" fill="rgb(51,102,204)" fill-opacity="0.867" stroke="rgb(51,102,204)" stroke-opacity="0.867" stroke-width="2" stroke-linejoin="miter"/>
<polygon points="815.63,137.48 808.51,148.25 813.21,148.82 786.77,366.52 788.84,366.78 815.27,149.07 819.97,149.64" fill="rgb(51,102,204)" fill-opacity="0.875" stroke="rgb(51,102,204)" stroke-opacity="0.875" stroke-width="2" stroke-linejoin="miter"/>
<polygon points="918.94,176.66 907.64,182.89 911.53,185.57 786.95,366.06 788.66,367.24 913.24,186.75 917.14,189.44" fill="rgb(51,102,204)" fill-opacity="0.883" stroke="rgb(51,102,204)" stroke-opacity="0.883" stroke-width="2" stroke-linejoin="miter"/>
<polygon points="992.21,259.37 979.31,259.62 981.51,263.81 787.32,365.73 788.29,367.57 982.47,265.65 984.67,269.84" fill="rgb(51,102,204)" fill-opacity="0.891" stroke="rgb(51,102,204)" stroke-opacity="0.891" stroke-width="2" stroke-linejoin="miter"/>
<polygon points="1018.66,366.65 1007.11,360.88 1007.11,365.61 787.81,365.61 787.81,367.69 1007.11,367.69 1007.11,372.42" fill="rgb(51,102,204)" fill-opacity="0.898" stroke="rgb(51,102,204)" stroke-opacity="0.898" stroke-width="2" stroke-linejoin="miter"/>
<polygon points="992.21,473.93 984.67,463.46 982.47,467.65 788.29,365.73 787.32,367.57 981.51,469.49 979.31,473.68" fill="rgb(51,102,204)" fill-opacity="0.906" stroke="rgb(51,102,204)" stroke-opacity="0.906" stroke-width="2" stroke-linejoin="miter"/>
<polygon points="918.94,556.64 917.14,543.86 913.24,546.55 788.66,366.06 786.95,367.24 911.53,547.73 907.64,550.41" fill="rgb(51,102,204)" fill-opacity="0.914" stroke="rgb(51,102,204)" stroke-opacity="0.914" stroke-width="2" stroke-linejoin="miter"/>
<polygon points="815.63,595.82 819.97,583.66 815.27,584.23 788.84,366.52 786.77,366.78 813.21,584.48 808.51,585.05" fill="rgb(51,102,204)" fill-opacity="0.922" stroke="rgb(51,102,204)" stroke-opacity="0.922" stroke-width="2" stroke-linejoin="miter"/>
<polygon points="705.94,582.5 715.43,573.75 711.01,572.07 788.78,367.02 786.83,366.28 709.07,571.34 704.64,569.66" fill="rgb(51,102,204)" fill-opacity="0.930" stroke="rgb(51,102,204)" stroke-opacity="0.930" stroke-width="2" stroke-linejoin="miter"/>
<polygon points="615.01,519.73 627.48,516.4 624.34,512.86 788.49,367.43 787.12,365.87 622.96,511.3 619.82,507.76" fill="rgb(51,102,204)" fill-opacity="0.938" stroke="rgb(51,102,204)" stroke-opacity="0.938" stroke-width="2" stroke-linejoin="miter"/>
<polygon points="563.66,421.9 576.25,424.74 575.12,420.14 788.05,367.66 787.56,365.64 574.62,418.13 573.49,413.53" fill="rgb(51,102,204)" fill-opacity="0.945" stroke="rgb(51,102,204)" stroke-opacity="0.945" stroke-width="2" stroke-linejoin="miter"/>
<polygon points="563.66,311.4 573.49,319.77 574.62,315.17 787.56,367.66 788.05,365.64 575.12,313.16 576.25,308.56" fill="rgb(51,102,204)" fill-opacity="0.953" stroke="rgb(51,102,204)" stroke-opacity="0.953" stroke-width="2" stroke-linejoin="miter"/>
<polygon points="615.01,213.57 619.82,225.54 622.96,222 787.12,367.43 788.49,365.87 624.34,220.44 627.48,216.9" fill="rgb(51,102,204)" fill-opacity="0.961" stroke="rgb(51,102,204)" stroke-opacity="0.961" stroke-width="2" stroke-linejoin="miter"/>
<polygon points="705.94,150.8 704.64,163.64 709.07,161.96 786.83,367.02 788.78,366.28 711.01,161.23 715.43,159.55" fill="rgb(51,102,204)" fill-opacity="0.969" stroke="rgb(51,102,204)" stroke-opacity="0.969" stroke-width="2" stroke-linejoin="miter"/>
<polygon points="815.63,137.48 808.51,148.25 813.21,148.82 786.77,366.52 788.84,366.78 815.27,149.07 819.97,149.64" fill="rgb(51,102,204)" fill-opacity="0.977" stroke="rgb(51,102,204)" stroke-opacity="0.977" stroke-width="2" stroke-linejoin="miter"/>
<polygon points="918.94,176.66 907.64,182.89 911.53,185.57 786.95,366.06 788.66,367.24 913.24,186.75 917.14,189.44" fill="rgb(51,102,204)" fill-opacity="0.984" stroke="rgb(51,102,204)" stroke-opacity="0.984" stroke-width="2" stroke-linejoin="miter"/>
<polygon points="992.21,259.37 979.31,259.62 981.51,263.81 787.32,365.73 788.29,367.57 982.47,265.65 984.67,269.84" fill="rgb(51,102,204)" fill-opacity="0.992" stroke="rgb(51,102,204)" stroke-opacity="0.992" stroke-width="2" stroke-linejoin="miter"/>
<polygon points="1018.66,366.65 1007.11,360.88 1007.11,365.61 787.81,365.61 787.81,367.69 1007.11,367.69 1007.11,372.42" fill="rgb(51,102,204)" fill-opacity="1.000" stroke="rgb(51,102,204)" stroke-opacity="1.000" stroke-width="2" stroke-linejoin="miter"/>
<circle cx="992.21" cy="473.93" r="8.5" fill="rgb(242,133,24)"/>
<circle cx="1018.66" cy="366.65" r="8.5" fill="rgb(242,133,24)"/>
<circle cx="992.21" cy="259.37" r="8.5" fill="rgb(242,133,24)"/>
<circle cx="918.94" cy="176.66" r="8.5" fill="rgb(242,133,24)"/>
<circle cx="815.63" cy="137.48" r="8.5" fill="rgb(242,133,24)"/>
<circle cx="705.94" cy="150.8" r="8.5" fill="rgb(242,133,24)"/>
<circle cx="615.01" cy="213.57" r="8.5" fill="rgb(242,133,24)"/>
<circle cx="563.66" cy="311.4" r="8.5" fill="rgb(242,133,24)"/>
<circle cx="563.66" cy="421.9" r="8.5" fill="rgb(242,133,24)"/>
<circle cx="615.01" cy="519.73" r="8.5" fill="rgb(242,133,24)"/>
<circle cx="705.94" cy="582.5" r="8.5" fill="rgb(242,133,24)"/>
<circle cx="815.63" cy="595.82" r="8.5" fill="rgb(242,133,24)"/>
<circle cx="918.94" cy="556.64" r="8.5" fill="rgb(242,133,24)"/>
<circle cx="992.21" cy="473.93" r="8.5" fill="rgb(242,133,24)"/>
<circle cx="1018.66" cy="366.65" r="8.5" fill="rgb(242,133,24)"/>
<circle cx="992.21" cy="259.37" r="8.5" fill="rgb(242,133,24)"/>
<circle cx="918.94" cy="176.66" r="8.5" fill="rgb(242,133,24)"/>
<circle cx="815.63" cy="137.48" r="8.5" fill="rgb(242,133,24)"/>
<circle cx="705.94" cy="150.8" r="8.5" fill="rgb(242,133,24)"/>
<circle cx="615.01" cy="213.57" r="8.5" fill="rgb(242,133,24)"/>
<circle cx="563.66" cy="311.4" r="8.5" fill="rgb(242,133,24)"/>
<circle cx="563.66" cy="421.9" r="8.5" fill="rgb(242,133,24)"/>
<circle cx="615.01" cy="519.73" r="8.5" fill="rgb(242,133,24)"/>
<circle cx="705.94" cy="582.5" r="8.5" fill="rgb(242,133,24)"/>
<circle cx="815.63" cy="595.82" r="8.5" fill="rgb(242,133,24)"/>
<circle cx="918.94" cy="556.64" r="8.5" fill="rgb(242,133,24)"/>
<circle cx="992.21" cy="473.93" r="8.5" fill="rgb(242,133,24)"/>
<circle cx="1018.66" cy="366.65" r="8.5" fill="rgb(242,133,24)"/>
<circle cx="992.21" cy="259.37" r="8.5" fill="rgb(242,133,24)"/>
<circle cx="918.94" cy="176.66" r="8.5" fill="rgb(242,133,24)"/>
<circle cx="815.63" cy="137.48" r="8.5" fill="rgb(242,133,24)"/>
<circle cx="705.94" cy="150.8" r="8.5" fill="rgb(242,133,24)"/>
<circle cx="615.01" cy="213.57" r="8.5" fill="rgb(242,133,24)"/>
<circle cx="563.66" cy="311.4" r="8.5" fill="rgb(242,133,24)"/>
<circle cx="563.66" cy="421.9" r="8.5" fill="rgb(242,133,24)"/>
<circle cx="615.01" cy="519.73" r="8.5" fill="rgb(242,133,24)"/>
<circle cx="705.94" cy="582.5" r="8.5" fill="rgb(242,133,24)"/>
<circle cx="815.63" cy="595.82" r="8.5" fill="rgb(242,133,24)"/>
<circle cx="918.94" cy="556.64" r="8.5" fill="rgb(242,133,24)"/>
<circle cx="992.21" cy="473.93" r="8.5" fill="rgb(242,133,24)"/>
<circle cx="1018.66" cy="366.65" r="8.5" fill="rgb(242,133,24)"/>
<circle cx="992.21" cy="259.37" r="8.5" fill="rgb(242,133,24)"/>
<circle cx="918.94" cy="176.66" r="8.5" fill="rgb(242,133,24)"/>
<circle cx="815.63" cy="137.48" r="8.5" fill="rgb(242,133,24)"/>
<circle cx="705.94" cy="150.8" r="8.5" fill="rgb(242,133,24)"/>
<circle cx="615.01" cy="213.57" r="8.5" fill="rgb(242,133,24)"/>
<circle cx="563.66" cy="311.4" r="8.5" fill="rgb(242,133,24)"/>
<circle cx="563.66" cy="421.9" r="8.5" fill="rgb(242,133,24)"/>
<circle cx="615.01" cy="519.73" r="8.5" fill="rgb(242,133,24)"/>
<circle cx="705.94" cy="582.5" r="8.5" fill="rgb(242,133,24)"/>
<circle cx="815.63" cy="595.82" r="8.5" fill="rgb(242,133,24)"/>
<circle cx="918.94" cy="556.64" r="8.5" fill="rgb(242,133,24)"/>
<circle cx="992.21" cy="473.93" r="8.5" fill="rgb(242,133,24)"/>
<circle cx="1018.66" cy="366.65" r="8.5" fill="rgb(242,133,24)"/>
<circle cx="992.21" cy="259.37" r="8.5" fill="rgb(242,133,24)"/>
<circle cx="918.94" cy="176.66" r="8.5" fill="rgb(242,133,24)"/>
<circle cx="815.63" cy="137.48" r="8.5" fill="rgb(242,133,24)"/>
<circle cx="705.94" cy="150.8" r="8.5" fill="rgb(242,133,24)"/>
<circle cx="615.01" cy="213.57" r="8.5" fill="rgb(242,133,24)"/>
<circle cx="563.66" cy="311.4" r="8.5" fill="rgb(242,133,24)"/>
<circle cx="563.66" cy="421.9" r="8.5" fill="rgb(242,133,24)"/>
<circle cx="615.01" cy="519.73" r="8.5" fill="rgb(242,133,24)"/>
<circle cx="705.94" cy="582.5" r="8.5" fill="rgb(242,133,24)"/>
<circle cx="815.63" cy="595.82" r="8.5" fill="rgb(242,133,24)"/>
<circle cx="1018.66" cy="366.65" r="8.5" fill="rgb(51,102,204)"/>
<circle cx="992.21" cy="259.37" r="8.5" fill="rgb(51,102,204)"/>
<circle cx="918.94" cy="176.66" r="8.5" fill="rgb(51,102,204)"/>
<circle cx="815.63" cy="137.48" r="8.5" fill="rgb(51,102,204)"/>
<circle cx="705.94" cy="150.8" r="8.5" fill="rgb(51,102,204)"/>
<circle cx="615.01" cy="213.57" r="8.5" fill="rgb(51,102,204)"/>
<circle cx="563.66" cy="311.4" r="8.5" fill="rgb(51,102,204)"/>
<circle cx="563.66" cy="421.9" r="8.5" fill="rgb(51,102,204)"/>
<circle cx="615.01" cy="519.73" r="8.5" fill="rgb(51,102,204)"/>
<circle cx="705.94" cy="582.5" r="8.5" fill="rgb(51,102,204)"/>
<circle cx="815.63" cy="595.82" r="8.5" fill="rgb(51,102,204)"/>
<circle cx="918.94" cy="556.64" r="8.5" fill="rgb(51,102,204)"/>
<circle cx="992.21" cy="473.93" r="8.5" fill="rgb(51,102,204)"/>
<circle cx="1018.66" cy="366.65" r="8.5" fill="rgb(51,102,204)"/>
<circle cx="992.21" cy="259.37" r="8.5" fill="rgb(51,102,204)"/>
<circle cx="918.94" cy="176.66" r="8.5" fill="rgb(51,102,204)"/>
<circle cx="815.63" cy="137.48" r="8.5" fill="rgb(51,102,204)"/>
<circle cx="705.94" cy="150.8" r="8.5" fill="rgb(51,102,204)"/>
<circle cx="615.01" cy="213.57" r="8.5" fill="rgb(51,102,204)"/>
<circle cx="563.66" cy="311.4" r="8.5" fill="rgb(51,102,204)"/>
<circle cx="563.66" cy="421.9" r="8.5" fill="rgb(51,102,204)"/>
<circle cx="615.01" cy="519.73" r="8.5" fill="rgb(51,102,204)"/>
<circle cx="705.94" cy="582.5" r="8.5" fill="rgb(51,102,204)"/>
<circle cx="815.63" cy="595.82" r="8.5" fill="rgb(51,102,204)"/>
<circle cx="918.94" cy="556.64" r="8.5" fill="rgb(51,102,204)"/>
<circle cx="992.21" cy="473.93" r="8.5" fill="rgb(51,102,204)"/>
<circle cx="1018.66" cy="366.65" r="8.5" fill="rgb(51,102,204)"/>
<circle cx="992.21" cy="259.37" r="8.5" fill="rgb(51,102,204)"/>
<circle cx="918.94" cy="176.66" r="8.5" fill="rgb(51,102,204)"/>
<circle cx="815.63" cy="137.48" r="8.5" fill="rgb(51,102,204)"/>
<circle cx="705.94" cy="150.8" r="8.5" fill="rgb(51,102,204)"/>
<circle cx="615.01" cy="213.57" r="8.5" fill="rgb(51,102,204)"/>
<circle cx="563.66" cy="311.4" r="8.5" fill="rgb(51,102,204)"/>
<circle cx="563.66" cy="421.9" r="8.5" fill="rgb(51,102,204)"/>
<circle cx="615.01" cy="519.73" r="8.5" fill="rgb(51,102,204)"/>
<circle cx="705.94" cy="582.5" r="8.5" fill="rgb(51,102,204)"/>
<circle cx="815.63" cy="595.82" r="8.5" fill="rgb(51,102,204)"/>
<circle cx="918.94" cy="556.64" r="8.5" fill="rgb(51,102,204)"/>
<circle cx="992.21" cy="473.93" r="8.5" fill="rgb(51,102,204)"/>
<circle cx="1018.66" cy="366.65" r="8.5" fill="rgb(51,102,204)"/>
<circle cx="992.21" cy="259.37" r="8.5" fill="rgb(51,102,204)"/>
<circle cx="918.94" cy="176.66" r="8.5" fill="rgb(51,102,204)"/>
<circle cx="815.63" cy="137.48" r="8.5" fill="rgb(51,102,204)"/>
<circle cx="705.94" cy="150.8" r="8.5" fill="rgb(51,102,204)"/>
<circle cx="615.01" cy="213.57" r="8.5" fill="rgb(51,102,204)"/>
<circle cx="563.66" cy="311.4" r="8.5" fill="rgb(51,102,204)"/>
<circle cx="563.66" cy="421.9" r="8.5" fill="rgb(51,102,204)"/>
<circle cx="615.01" cy="519.73" r="8.5" fill="rgb(51,102,204)"/>
<circle cx="705.94" cy="582.5" r="8.5" fill="rgb(51,102,204)"/>
<circle cx="815.63" cy="595.82" r="8.5" fill="rgb(51,102,204)"/>
<circle cx="918.94" cy="556.64" r="8.5" fill="rgb(51,102,204)"/>
<circle cx="992.21" cy="473.93" r="8.5" fill="rgb(51,102,204)"/>
<circle cx="1018.66" cy="366.65" r="8.5" fill="rgb(51,102,204)"/>
<circle cx="992.21" cy="259.37" r="8.5" fill="rgb(51,102,204)"/>
<circle cx="918.94" cy="176.66" r="8.5" fill="rgb(51,102,204)"/>
<circle cx="815.63" cy="137.48" r="8.5" fill="rgb(51,102,204)"/>
<circle cx="705.94" cy="150.8" r="8.5" fill="rgb(51,102,204)"/>
<circle cx="615.01" cy="213.57" r="8.5" fill="rgb(51,102,204)"/>
<circle cx="563.66" cy="311.4" r="8.5" fill="rgb(51,102,204)"/>
<circle cx="563.66" cy="421.9" r="8.5" fill="rgb(51,102,204)"/>
<circle cx="615.01" cy="519.73" r="8.5" fill="rgb(51,102,204)"/>
<circle cx="705.94" cy="582.5" r="8.5" fill="rgb(51,102,204)"/>
<circle cx="815.63" cy="595.82" r="8.5" fill="rgb(51,102,204)"/>
<circle cx="918.94" cy="556.64" r="8.5" fill="rgb(51,102,204)"/>
<line x1="787.31" y1="366.85" x2="1064.83" y2="366.85" stroke="#000" stroke-width="2.4"/>
</g>
<rect x="26" y="112.71" width="507.87" height="507.87" fill="none" stroke="#000" stroke-width="1.3"/>
<line x1="20.2" y1="597.5" x2="26" y2="597.5" stroke="#000" stroke-width="1.3"/>
<line x1="49.09" y1="620.59" x2="49.09" y2="626.38" stroke="#000" stroke-width="1.3"/>
<line x1="20.2" y1="539.79" x2="26" y2="539.79" stroke="#000" stroke-width="1.3"/>
<line x1="106.8" y1="620.59" x2="106.8" y2="626.38" stroke="#000" stroke-width="1.3"/>
<line x1="20.2" y1="482.07" x2="26" y2="482.07" stroke="#000" stroke-width="1.3"/>
<line x1="164.51" y1="620.59" x2="164.51" y2="626.38" stroke="#000" stroke-width="1.3"/>
<line x1="20.2" y1="424.36" x2="26" y2="424.36" stroke="#000" stroke-width="1.3"/>
<line x1="222.22" y1="620.59" x2="222.22" y2="626.38" stroke="#000" stroke-width="1.3"/>
<line x1="20.2" y1="366.65" x2="26" y2="366.65" stroke="#000" stroke-width="1.3"/>
<line x1="279.94" y1="620.59" x2="279.94" y2="626.38" stroke="#000" stroke-width="1.3"/>
<line x1="20.2" y1="308.94" x2="26" y2="308.94" stroke="#000" stroke-width="1.3"/>
<line x1="337.65" y1="620.59" x2="337.65" y2="626.38" stroke="#000" stroke-width="1.3"/>
<line x1="20.2" y1="251.22" x2="26" y2="251.22" stroke="#000" stroke-width="1.3"/>
<line x1="395.36" y1="620.59" x2="395.36" y2="626.38" stroke="#000" stroke-width="1.3"/>
<line x1="20.2" y1="193.51" x2="26" y2="193.51" stroke="#000" stroke-width="1.3"/>
<line x1="453.07" y1="620.59" x2="453.07" y2="626.38" stroke="#000" stroke-width="1.3"/>
<line x1="20.2" y1="135.8" x2="26" y2="135.8" stroke="#000" stroke-width="1.3"/>
<line x1="510.78" y1="620.59" x2="510.78" y2="626.38" stroke="#000" stroke-width="1.3"/>
<rect x="533.87" y="112.71" width="507.87" height="507.87" fill="none" stroke="#000" stroke-width="1.3"/>
<line x1="528.07" y1="597.5" x2="533.87" y2="597.5" stroke="#000" stroke-width="1.3"/>
<line x1="556.96" y1="620.59" x2="556.96" y2="626.38" stroke="#000" stroke-width="1.3"/>
<line x1="528.07" y1="539.79" x2="533.87" y2="539.79" stroke="#000" stroke-width="1.3"/>
<line x1="614.67" y1="620.59" x2="614.67" y2="626.38" stroke="#000" stroke-width="1.3"/>
<line x1="528.07" y1="482.07" x2="533.87" y2="482.07" stroke="#000" stroke-width="1.3"/>
<line x1="672.38" y1="620.59" x2="672.38" y2="626.38" stroke="#000" stroke-width="1.3"/>
<line x1="528.07" y1="424.36" x2="533.87" y2="424.36" stroke="#000" stroke-width="1.3"/>
<line x1="730.09" y1="620.59" x2="730.09" y2="626.38" stroke="#000" stroke-width="1.3"/>
<line x1="528.07" y1="366.65" x2="533.87" y2="366.65" stroke="#000" stroke-width="1.3"/>
<line x1="787.81" y1="620.59" x2="787.81" y2="626.38" stroke="#000" stroke-width="1.3"/>
<line x1="528.07" y1="308.94" x2="533.87" y2="308.94" stroke="#000" stroke-width="1.3"/>
<line x1="845.52" y1="620.59" x2="845.52" y2="626.38" stroke="#000" stroke-width="1.3"/>
<line x1="528.07" y1="251.22" x2="533.87" y2="251.22" stroke="#000" stroke-width="1.3"/>
<line x1="903.23" y1="620.59" x2="903.23" y2="626.38" stroke="#000" stroke-width="1.3"/>
<line x1="528.07" y1="193.51" x2="533.87" y2="193.51" stroke="#000" stroke-width="1.3"/>
<line x1="960.94" y1="620.59" x2="960.94" y2="626.38" stroke="#000" stroke-width="1.3"/>
<line x1="528.07" y1="135.8" x2="533.87" y2="135.8" stroke="#000" stroke-width="1.3"/>
<line x1="1018.66" y1="620.59" x2="1018.66" y2="626.38" stroke="#000" stroke-width="1.3"/>
<defs><linearGradient id="cbg" x1="0" x2="1" y1="0" y2="0"><stop offset="0.00000" stop-color="rgb(51,102,204)"/><stop offset="0.00781" stop-color="rgb(51,102,204)"/><stop offset="0.00781" stop-color="rgb(53,103,204)"/><stop offset="0.01562" stop-color="rgb(53,103,204)"/><stop offset="0.01562" stop-color="rgb(54,104,205)"/><stop offset="0.02344" stop-color="rgb(54,104,205)"/><stop offset="0.02344" stop-color="rgb(56,106,205)"/><stop offset="0.03125" stop-color="rgb(56,106,205)"/><stop offset="0.03125" stop-color="rgb(57,107,206)"/><stop offset="0.03906" stop-color="rgb(57,107,206)"/><stop offset="0.03906" stop-color="rgb(59,108,206)"/><stop offset="0.04688" stop-color="rgb(59,108,206)"/><stop offset="0.04688" stop-color="rgb(61,109,206)"/><stop offset="0.05469" stop-color="rgb(61,109,206)"/><stop offset="0.05469" stop-color="rgb(62,110,207)"/><stop offset="0.06250" stop-color="rgb(62,110,207)"/><stop offset="0.06250" stop-color="rgb(64,112,207)"/><stop offset="0.07031" stop-color="rgb(64,112,207)"/><stop offset="0.07031" stop-color="rgb(65,113,208)"/><stop offset="0.07812" stop-color="rgb(65,113,208)"/><stop offset="0.07812" stop-color="rgb(67,114,208)"/><stop offset="0.08594" stop-color="rgb(67,114,208)"/><stop offset="0.08594" stop-color="rgb(69,115,208)"/><stop offset="0.09375" stop-color="rgb(69,115,208)"/><stop offset="0.09375" stop-color="rgb(70,116,209)"/><stop offset="0.10156" stop-color="rgb(70,116,209)"/><stop offset="0.10156" stop-color="rgb(72,118,209)"/><stop offset="0.10938" stop-color="rgb(72,118,209)"/><stop offset="0.10938" stop-color="rgb(73,119,210)"/><stop offset="0.11719" stop-color="rgb(73,119,210)"/><stop offset="0.11719" stop-color="rgb(75,120,210)"/><stop offset="0.12500" stop-color="rgb(75,120,210)"/><stop offset="0.12500" stop-color="rgb(76,121,210)"/><stop offset="0.13281" stop-color="rgb(76,121,210)"/><stop offset="0.13281" stop-color="rgb(78,122,211)"/><stop offset="0.14062" stop-color="rgb(78,122,211)"/><stop offset="0.14062" stop-color="rgb(80,124,211)"/><stop offset="0.14844" stop-color="rgb(80,124,211)"/><stop offset="0.14844" stop-color="rgb(81,125,212)"/><stop offset="0.15625" stop-color="rgb(81,125,212)"/><stop offset="0.15625" stop-color="rgb(83,126,212)"/><stop offset="0.16406" stop-color="rgb(83,126,212)"/><stop offset="0.16406" stop-color="rgb(84,127,212)"/><stop offset="0.17188" stop-color="rgb(84,127,212)"/><stop offset="0.17188" stop-color="rgb(86,128,213)"/><stop offset="0.17969" stop-color="rgb(86,128,213)"/><stop offset="0.17969" stop-color="rgb(88,129,213)"/><stop offset="0.18750" stop-color="rgb(88,129,213)"/><stop offset="0.18750" stop-color="rgb(89,131,214)"/><stop offset="0.19531" stop-color="rgb(89,131,214)"/><stop offset="0.19531" stop-color="rgb(91,132,214)"/><stop offset="0.20312" stop-color="rgb(91,132,214)"/><stop offset="0.20312" stop-color="rgb(92,133,214)"/><stop offset="0.21094" stop-color="rgb(92,133,214)"/><stop offset="0.21094" stop-color="rgb(94,134,215)"/><stop offset="0.21875" stop-color="rgb(94,134,215)"/><stop offset="0.21875" stop-color="rgb(96,135,215)"/><stop offset="0.22656" stop-color="rgb(96,135,215)"/><stop offset="0.22656" stop-color="rgb(97,137,216)"/><stop offset="0.23438" stop-color="rgb(97,137,216)"/><stop offset="0.23438" stop-color="rgb(99,138,216)"/><stop offset="0.24219" stop-color="rgb(99,138,216)"/><stop offset="0.24219" stop-color="rgb(100,139,216)"/><stop offset="0.25000" stop-color="rgb(100,139,216)"/><stop offset="0.25000" stop-color="rgb(102,140,217)"/><stop offset="0.25781" stop-color="rgb(102,140,217)"/><stop offset="0.25781" stop-color="rgb(104,141,217)"/><stop offset="0.26562" stop-color="rgb(104,141,217)"/><stop offset="0.26562" stop-color="rgb(105,143,218)"/><stop offset="0.27344" stop-color="rgb(105,143,218)"/><stop offset="0.27344" stop-color="rgb(107,144,218)"/><stop offset="0.28125" stop-color="rgb(107,144,218)"/><stop offset="0.28125" stop-color="rgb(108,145,218)"/><stop offset="0.28906" stop-color="rgb(108,145,218)"/><stop offset="0.28906" stop-color="rgb(110,146,219)"/><stop offset="0.29688" stop-color="rgb(110,146,219)"/><stop offset="0.29688" stop-color="rgb(112,147,219)"/><stop offset="0.30469" stop-color="rgb(112,147,219)"/><stop offset="0.30469" stop-color="rgb(113,149,220)"/><stop offset="0.31250" stop-color="rgb(113,149,220)"/><stop offset="0.31250" stop-color="rgb(115,150,220)"/><stop offset="0.32031" stop-color="rgb(115,150,220)"/><stop offset="0.32031" stop-color="rgb(116,151,220)"/><stop offset="0.32812" stop-color="rgb(116,151,220)"/><stop offset="0.32812" stop-color="rgb(118,152,221)"/><stop offset="0.33594" stop-color="rgb(118,152,221)"/><stop offset="0.33594" stop-color="rgb(120,153,221)"/><stop offset="0.34375" stop-color="rgb(120,153,221)"/><stop offset="0.34375" stop-color="rgb(121,155,222)"/><stop offset="0.35156" stop-color="rgb(121,155,222)"/><stop offset="0.35156" stop-color="rgb(123,156,222)"/><stop offset="0.35938" stop-color="rgb(123,156,222)"/><stop offset="0.35938" stop-color="rgb(124,157,222)"/><stop offset="0.36719" stop-color="rgb(124,157,222)"/><stop offset="0.36719" stop-color="rgb(126,158,223)"/><stop offset="0.37500" stop-color="rgb(126,158,223)"/><stop offset="0.37500" stop-color="rgb(128,159,223)"/><stop offset="0.38281" stop-color="rgb(128,159,223)"/><stop offset="0.38281" stop-color="rgb(129,161,224)"/><stop offset="0.39062" stop-color="rgb(129,161,224)"/><stop offset="0.39062" stop-color="rgb(131,162,224)"/><stop offset="0.39844" stop-color="rgb(131,162,224)"/><stop offset="0.39844" stop-color="rgb(132,163,224)"/><stop offset="0.40625" stop-color="rgb(132,163,224)"/><stop offset="0.40625" stop-color="rgb(134,164,225)"/><stop offset="0.41406" stop-color="rgb(134,164,225)"/><stop offset="0.41406" stop-color="rgb(135,165,225)"/><stop offset="0.42188" stop-color="rgb(135,165,225)"/><stop offset="0.42188" stop-color="rgb(137,167,226)"/><stop offset="0.42969" stop-color="rgb(137,167,226)"/><stop offset="0.42969" stop-color="rgb(139,168,226)"/><stop offset="0.43750" stop-color="rgb(139,168,226)"/><stop offset="0.43750" stop-color="rgb(140,169,226)"/><stop offset="0.44531" stop-color="rgb(140,169,226)"/><stop offset="0.44531" stop-color="rgb(142,170,227)"/><stop offset="0.45312" stop-color="rgb(142,170,227)"/><stop offset="0.45312" stop-color="rgb(143,171,227)"/><stop offset="0.46094" stop-color="rgb(143,171,227)"/><stop offset="0.46094" stop-color="rgb(145,173,228)"/><stop offset="0.46875" stop-color="rgb(145,173,228)"/><stop offset="0.46875" stop-color="rgb(147,174,228)"/><stop offset="0.47656" stop-color="rgb(147,174,228)"/><stop offset="0.47656" stop-color="rgb(148,175,228)"/><stop offset="0.48438" stop-color="rgb(148,175,228)"/><stop offset="0.48438" stop-color="rgb(150,176,229)"/><stop offset="0.49219" stop-color="rgb(150,176,229)"/><stop offset="0.49219" stop-color="rgb(151,177,229)"/><stop offset="0.50000" stop-color="rgb(151,177,229)"/><stop offset="0.50000" stop-color="rgb(251,196,150)"/><stop offset="0.50781" stop-color="rgb(251,196,150)"/><stop offset="0.50781" stop-color="rgb(251,197,152)"/><stop offset="0.51562" stop-color="rgb(251,197,152)"/><stop offset="0.51562" stop-color="rgb(251,198,153)"/><stop offset="0.52344" stop-color="rgb(251,198,153)"/><stop offset="0.52344" stop-color="rgb(251,199,155)"/><stop offset="0.53125" stop-color="rgb(251,199,155)"/><stop offset="0.53125" stop-color="rgb(251,200,157)"/><stop offset="0.53906" stop-color="rgb(251,200,157)"/><stop offset="0.53906" stop-color="rgb(251,201,158)"/><stop offset="0.54688" stop-color="rgb(251,201,158)"/><stop offset="0.54688" stop-color="rgb(251,202,160)"/><stop offset="0.55469" stop-color="rgb(251,202,160)"/><stop offset="0.55469" stop-color="rgb(251,202,161)"/><stop offset="0.56250" stop-color="rgb(251,202,161)"/><stop offset="0.56250" stop-color="rgb(252,203,163)"/><stop offset="0.57031" stop-color="rgb(252,203,163)"/><stop offset="0.57031" stop-color="rgb(252,204,165)"/><stop offset="0.57812" stop-color="rgb(252,204,165)"/><stop offset="0.57812" stop-color="rgb(252,205,166)"/><stop offset="0.58594" stop-color="rgb(252,205,166)"/><stop offset="0.58594" stop-color="rgb(252,206,168)"/><stop offset="0.59375" stop-color="rgb(252,206,168)"/><stop offset="0.59375" stop-color="rgb(252,207,170)"/><stop offset="0.60156" stop-color="rgb(252,207,170)"/><stop offset="0.60156" stop-color="rgb(252,208,171)"/><stop offset="0.60938" stop-color="rgb(252,208,171)"/><stop offset="0.60938" stop-color="rgb(252,209,173)"/><stop offset="0.61719" stop-color="rgb(252,209,173)"/><stop offset="0.61719" stop-color="rgb(252,210,175)"/><stop offset="0.62500" stop-color="rgb(252,210,175)"/><stop offset="0.62500" stop-color="rgb(252,211,176)"/><stop offset="0.63281" stop-color="rgb(252,211,176)"/><stop offset="0.63281" stop-color="rgb(252,212,178)"/><stop offset="0.64062" stop-color="rgb(252,212,178)"/><stop offset="0.64062" stop-color="rgb(252,213,180)"/><stop offset="0.64844" stop-color="rgb(252,213,180)"/><stop offset="0.64844" stop-color="rgb(252,214,181)"/><stop offset="0.65625" stop-color="rgb(252,214,181)"/><stop offset="0.65625" stop-color="rgb(252,214,183)"/><stop offset="0.66406" stop-color="rgb(252,214,183)"/><stop offset="0.66406" stop-color="rgb(252,215,184)"/><stop offset="0.67188" stop-color="rgb(252,215,184)"/><stop offset="0.67188" stop-color="rgb(252,216,186)"/><stop offset="0.67969" stop-color="rgb(252,216,186)"/><stop offset="0.67969" stop-color="rgb(252,217,188)"/><stop offset="0.68750" stop-color="rgb(252,217,188)"/><stop offset="0.68750" stop-color="rgb(252,218,189)"/><stop offset="0.69531" stop-color="rgb(252,218,189)"/><stop offset="0.69531" stop-color="rgb(253,219,191)"/><stop offset="0.70312" stop-color="rgb(253,219,191)"/><stop offset="0.70312" stop-color="rgb(253,220,193)"/><stop offset="0.71094" stop-color="rgb(253,220,193)"/><stop offset="0.71094" stop-color="rgb(253,221,194)"/><stop offset="0.71875" stop-color="rgb(253,221,194)"/><stop offset="0.71875" stop-color="rgb(253,222,196)"/><stop offset="0.72656" stop-color="rgb(253,222,196)"/><stop offset="0.72656" stop-color="rgb(253,223,198)"/><stop offset="0.73438" stop-color="rgb(253,223,198)"/><stop offset="0.73438" stop-color="rgb(253,224,199)"/><stop offset="0.74219" stop-color="rgb(253,224,199)"/><stop offset="0.74219" stop-color="rgb(253,225,201)"/><stop offset="0.75000" stop-color="rgb(253,225,201)"/><stop offset="0.75000" stop-color="rgb(253,226,202)"/><stop offset="0.75781" stop-color="rgb(253,226,202)"/><stop offset="0.75781" stop-color="rgb(253,226,204)"/><stop offset="0.76562" stop-color="rgb(253,226,204)"/><stop offset="0.76562" stop-color="rgb(253,227,206)"/><stop offset="0.77344" stop-color="rgb(253,227,206)"/><stop offset="0.77344" stop-color="rgb(253,228,207)"/><stop offset="0.78125" stop-color="rgb(253,228,207)"/><stop offset="0.78125" stop-color="rgb(253,229,209)"/><stop offset="0.78906" stop-color="rgb(253,229,209)"/><stop offset="0.78906" stop-color="rgb(253,230,211)"/><stop offset="0.79688" stop-color="rgb(253,230,211)"/><stop offset="0.79688" stop-color="rgb(253,231,212)"/><stop offset="0.80469" stop-color="rgb(253,231,212)"/><stop offset="0.80469" stop-color="rgb(253,232,214)"/><stop offset="0.81250" stop-color="rgb(253,232,214)"/><stop offset="0.81250" stop-color="rgb(254,233,216)"/><stop offset="0.82031" stop-color="rgb(254,233,216)"/><stop offset="0.82031" stop-color="rgb(254,234,217)"/><stop offset="0.82812" stop-color="rgb(254,234,217)"/><stop offset="0.82812" stop-color="rgb(254,235,219)"/><stop offset="0.83594" stop-color="rgb(254,235,219)"/><stop offset="0.83594" stop-color="rgb(254,236,221)"/><stop offset="0.84375" stop-color="rgb(254,236,221)"/><stop offset="0.84375" stop-color="rgb(254,237,222)"/><stop offset="0.85156" stop-color="rgb(254,237,222)"/><stop offset="0.85156" stop-color="rgb(254,237,224)"/><stop offset="0.85938" stop-color="rgb(254,237,224)"/><stop offset="0.85938" stop-color="rgb(254,238,225)"/><stop offset="0.86719" stop-color="rgb(254,238,225)"/><stop offset="0.86719" stop-color="rgb(254,239,227)"/><stop offset="0.87500" stop-color="rgb(254,239,227)"/><stop offset="0.87500" stop-color="rgb(254,240,229)"/><stop offset="0.88281" stop-color="rgb(254,240,229)"/><stop offset="0.88281" stop-color="rgb(254,241,230)"/><stop offset="0.89062" stop-color="rgb(254,241,230)"/><stop offset="0.89062" stop-color="rgb(254,242,232)"/><stop offset="0.89844" stop-color="rgb(254,242,232)"/><stop offset="0.89844" stop-color="rgb(254,243,234)"/><stop offset="0.90625" stop-color="rgb(254,243,234)"/><stop offset="0.90625" stop-color="rgb(254,244,235)"/><stop offset="0.91406" stop-color="rgb(254,244,235)"/><stop offset="0.91406" stop-color="rgb(254,245,237)"/><stop offset="0.92188" stop-color="rgb(254,245,237)"/><stop offset="0.92188" stop-color="rgb(254,246,239)"/><stop offset="0.92969" stop-color="rgb(254,246,239)"/><stop offset="0.92969" stop-color="rgb(254,247,240)"/><stop offset="0.93750" stop-color="rgb(254,247,240)"/><stop offset="0.93750" stop-color="rgb(254,248,242)"/><stop offset="0.94531" stop-color="rgb(254,248,242)"/><stop offset="0.94531" stop-color="rgb(255,249,244)"/><stop offset="0.95312" stop-color="rgb(255,249,244)"/><stop offset="0.95312" stop-color="rgb(255,249,245)"/><stop offset="0.96094" stop-color="rgb(255,249,245)"/><stop offset="0.96094" stop-color="rgb(255,250,247)"/><stop offset="0.96875" stop-color="rgb(255,250,247)"/><stop offset="0.96875" stop-color="rgb(255,251,248)"/><stop offset="0.97656" stop-color="rgb(255,251,248)"/><stop offset="0.97656" stop-color="rgb(255,252,250)"/><stop offset="0.98438" stop-color="rgb(255,252,250)"/><stop offset="0.98438" stop-color="rgb(255,253,252)"/><stop offset="0.99219" stop-color="rgb(255,253,252)"/><stop offset="0.99219" stop-color="rgb(255,254,253)"/><stop offset="1.00000" stop-color="rgb(255,254,253)"/></linearGradient></defs>
<rect x="78.5" y="683" width="917.5" height="27.6" fill="url(#cbg)"/>
<rect x="78.5" y="683" width="917.5" height="27.6" fill="none" stroke="#000" stroke-width="1.3"/>
<line x1="78.5" y1="710.6" x2="78.5" y2="716.4" stroke="#000" stroke-width="1.3"/>
<line x1="307.88" y1="710.6" x2="307.88" y2="716.4" stroke="#000" stroke-width="1.3"/>
<line x1="537.25" y1="710.6" x2="537.25" y2="716.4" stroke="#000" stroke-width="1.3"/>
<line x1="766.62" y1="710.6" x2="766.62" y2="716.4" stroke="#000" stroke-width="1.3"/>
<line x1="996" y1="710.6" x2="996" y2="716.4" stroke="#000" stroke-width="1.3"/>
<text transform="translate(159.15 64.90) scale(0.34333 0.34203)" font-size="100">RoPE Features&#39;</text>
<text transform="translate(151.36 101.50) scale(0.36691 0.33768)" font-size="100">Rotation Angles</text>
<text transform="translate(572.82 64.70) scale(0.34730 0.34203)" font-size="100">Resonance RoPE Features&#39;</text>
<text transform="translate(658.86 101.50) scale(0.36749 0.33768)" font-size="100">Rotation Angles</text>
<text transform="translate(116.58 670.60) scale(0.35898 0.33768)" font-size="100">Training Position Range</text>
<text transform="translate(602.69 670.60) scale(0.35173 0.33768)" font-size="100">OOD Position Range</text>
<text transform="translate(71.40 742.70) scale(0.26531 0.27101)" font-size="100">0</text>
<text transform="translate(292.30 742.70) scale(0.27573 0.27101)" font-size="100">32</text>
<text transform="translate(521.61 742.70) scale(0.27885 0.27101)" font-size="100">64</text>
<text transform="translate(750.76 742.70) scale(0.28544 0.27101)" font-size="100">96</text>
<text transform="translate(972.51 742.70) scale(0.28462 0.27101)" font-size="100">128</text>
<text transform="translate(420.89 780.10) scale(0.35623 0.34493)" font-size="100">Token Position</text>
</svg>
</body></html>
